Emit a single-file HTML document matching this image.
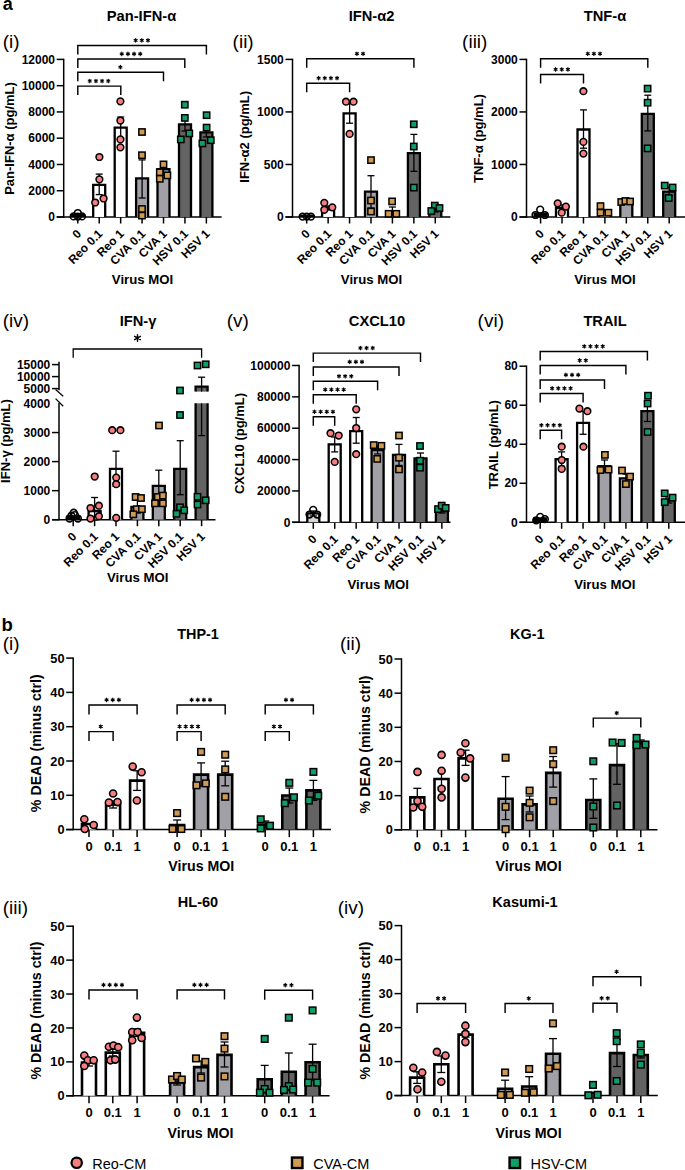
<!DOCTYPE html>
<html><head><meta charset="utf-8"><style>
html,body{margin:0;padding:0;background:#fff;}
body{width:685px;height:1170px;overflow:hidden;}
svg{display:block;}
text{font-family:"Liberation Sans", sans-serif;}
</style></head><body>
<svg width="685" height="1170" viewBox="0 0 685 1170" font-family='"Liberation Sans", sans-serif'>
<rect width="685" height="1170" fill="#fff"/>
<text x="2.65" y="9.9" font-size="18" font-weight="bold" text-anchor="start">a</text>
<text x="2.7" y="48.1" font-size="19" font-weight="normal" text-anchor="start">(i)</text>
<text x="141.5" y="20.8" font-size="14.7" font-weight="bold" text-anchor="middle">Pan-IFN-α</text>
<text x="13.5" y="138.5" font-size="13" font-weight="bold" text-anchor="middle" transform="rotate(-90 13.5 138.5)">Pan-IFN-α (pg/mL)</text>
<text x="142.5" y="283.8" font-size="13.2" font-weight="bold" text-anchor="middle">Virus MOI</text>
<line x1="63.7" y1="58.7" x2="63.7" y2="217.7" stroke="#000" stroke-width="1.5"/>
<line x1="56.7" y1="217" x2="63.7" y2="217" stroke="#000" stroke-width="1.5"/>
<text x="55" y="221.2" font-size="12.0" font-weight="bold" text-anchor="end">0</text>
<line x1="56.7" y1="190.73" x2="63.7" y2="190.73" stroke="#000" stroke-width="1.5"/>
<text x="55" y="194.93" font-size="12.0" font-weight="bold" text-anchor="end">2000</text>
<line x1="56.7" y1="164.47" x2="63.7" y2="164.47" stroke="#000" stroke-width="1.5"/>
<text x="55" y="168.67" font-size="12.0" font-weight="bold" text-anchor="end">4000</text>
<line x1="56.7" y1="138.2" x2="63.7" y2="138.2" stroke="#000" stroke-width="1.5"/>
<text x="55" y="142.4" font-size="12.0" font-weight="bold" text-anchor="end">6000</text>
<line x1="56.7" y1="111.93" x2="63.7" y2="111.93" stroke="#000" stroke-width="1.5"/>
<text x="55" y="116.13" font-size="12.0" font-weight="bold" text-anchor="end">8000</text>
<line x1="56.7" y1="85.67" x2="63.7" y2="85.67" stroke="#000" stroke-width="1.5"/>
<text x="55" y="89.87" font-size="12.0" font-weight="bold" text-anchor="end">10000</text>
<line x1="56.7" y1="59.4" x2="63.7" y2="59.4" stroke="#000" stroke-width="1.5"/>
<text x="55" y="63.6" font-size="12.0" font-weight="bold" text-anchor="end">12000</text>
<line x1="56.7" y1="217" x2="221.6" y2="217" stroke="#000" stroke-width="1.5"/>
<line x1="77.8" y1="217" x2="77.8" y2="223.5" stroke="#000" stroke-width="1.5"/>
<line x1="99.23" y1="217" x2="99.23" y2="223.5" stroke="#000" stroke-width="1.5"/>
<line x1="120.66" y1="217" x2="120.66" y2="223.5" stroke="#000" stroke-width="1.5"/>
<line x1="142.09" y1="217" x2="142.09" y2="223.5" stroke="#000" stroke-width="1.5"/>
<line x1="163.52" y1="217" x2="163.52" y2="223.5" stroke="#000" stroke-width="1.5"/>
<line x1="184.95" y1="217" x2="184.95" y2="223.5" stroke="#000" stroke-width="1.5"/>
<line x1="206.38" y1="217" x2="206.38" y2="223.5" stroke="#000" stroke-width="1.5"/>
<path d="M71.8 217V214.8H83.8V217" fill="#000" stroke="#000" stroke-width="2.3"/>
<path d="M93.2 217V184.9H105.2V217" fill="#fff" stroke="#000" stroke-width="2.3"/>
<path d="M114.7 217V127.6H126.7V217" fill="#fff" stroke="#000" stroke-width="2.3"/>
<path d="M136.1 217V178.3H148.1V217" fill="#a1a0a6" stroke="#000" stroke-width="2.3"/>
<path d="M157.5 217V169.1H169.5V217" fill="#a1a0a6" stroke="#000" stroke-width="2.3"/>
<path d="M179 217V124.4H191V217" fill="#636363" stroke="#000" stroke-width="2.3"/>
<path d="M200.4 217V132.3H212.4V217" fill="#636363" stroke="#000" stroke-width="2.3"/>
<line x1="99.2" y1="174.1" x2="99.2" y2="194.6" stroke="#000" stroke-width="1.3"/>
<line x1="95.7" y1="174.1" x2="102.7" y2="174.1" stroke="#000" stroke-width="1.3"/>
<line x1="95.7" y1="194.6" x2="102.7" y2="194.6" stroke="#000" stroke-width="1.3"/>
<line x1="120.7" y1="117" x2="120.7" y2="138" stroke="#000" stroke-width="1.3"/>
<line x1="117.2" y1="117" x2="124.2" y2="117" stroke="#000" stroke-width="1.3"/>
<line x1="117.2" y1="138" x2="124.2" y2="138" stroke="#000" stroke-width="1.3"/>
<line x1="142.1" y1="159.9" x2="142.1" y2="198" stroke="#000" stroke-width="1.3"/>
<line x1="138.6" y1="159.9" x2="145.6" y2="159.9" stroke="#000" stroke-width="1.3"/>
<line x1="138.6" y1="198" x2="145.6" y2="198" stroke="#000" stroke-width="1.3"/>
<line x1="163.5" y1="165" x2="163.5" y2="173" stroke="#000" stroke-width="1.3"/>
<line x1="160" y1="165" x2="167" y2="165" stroke="#000" stroke-width="1.3"/>
<line x1="160" y1="173" x2="167" y2="173" stroke="#000" stroke-width="1.3"/>
<line x1="185" y1="118" x2="185" y2="131" stroke="#000" stroke-width="1.3"/>
<line x1="181.5" y1="118" x2="188.5" y2="118" stroke="#000" stroke-width="1.3"/>
<line x1="181.5" y1="131" x2="188.5" y2="131" stroke="#000" stroke-width="1.3"/>
<line x1="206.4" y1="127" x2="206.4" y2="137" stroke="#000" stroke-width="1.3"/>
<line x1="202.9" y1="127" x2="209.9" y2="127" stroke="#000" stroke-width="1.3"/>
<line x1="202.9" y1="137" x2="209.9" y2="137" stroke="#000" stroke-width="1.3"/>
<circle cx="73.6" cy="216.4" r="3.35" fill="none" stroke="#000" stroke-width="1.55"/>
<circle cx="77.8" cy="213" r="3.35" fill="none" stroke="#000" stroke-width="1.55"/>
<circle cx="82" cy="216.4" r="3.35" fill="none" stroke="#000" stroke-width="1.55"/>
<circle cx="77.8" cy="216.6" r="3.35" fill="none" stroke="#000" stroke-width="1.55"/>
<circle cx="99.4" cy="157" r="3.35" fill="#f87d80" stroke="#000" stroke-width="1.55"/>
<circle cx="99.4" cy="179.3" r="3.35" fill="#f87d80" stroke="#000" stroke-width="1.55"/>
<circle cx="95.2" cy="202.5" r="3.35" fill="#f87d80" stroke="#000" stroke-width="1.55"/>
<circle cx="103.6" cy="198.5" r="3.35" fill="#f87d80" stroke="#000" stroke-width="1.55"/>
<circle cx="120.4" cy="101.3" r="3.35" fill="#f87d80" stroke="#000" stroke-width="1.55"/>
<circle cx="120.4" cy="120.5" r="3.35" fill="#f87d80" stroke="#000" stroke-width="1.55"/>
<circle cx="120.4" cy="139.4" r="3.35" fill="#f87d80" stroke="#000" stroke-width="1.55"/>
<circle cx="120.4" cy="147.3" r="3.35" fill="#f87d80" stroke="#000" stroke-width="1.55"/>
<rect x="138.85" y="128.85" width="6.3" height="6.3" fill="#d09a53" stroke="#000" stroke-width="1.5"/>
<rect x="138.85" y="152.05" width="6.3" height="6.3" fill="#d09a53" stroke="#000" stroke-width="1.5"/>
<rect x="138.85" y="205.85" width="6.3" height="6.3" fill="#d09a53" stroke="#000" stroke-width="1.5"/>
<rect x="138.85" y="212.45" width="6.3" height="6.3" fill="#d09a53" stroke="#000" stroke-width="1.5"/>
<rect x="160.35" y="161.25" width="6.3" height="6.3" fill="#d09a53" stroke="#000" stroke-width="1.5"/>
<rect x="156.65" y="169.15" width="6.3" height="6.3" fill="#d09a53" stroke="#000" stroke-width="1.5"/>
<rect x="164.25" y="172.25" width="6.3" height="6.3" fill="#d09a53" stroke="#000" stroke-width="1.5"/>
<rect x="156.65" y="175.65" width="6.3" height="6.3" fill="#d09a53" stroke="#000" stroke-width="1.5"/>
<rect x="181.65" y="101.55" width="6.3" height="6.3" fill="#0f9e68" stroke="#000" stroke-width="1.5"/>
<rect x="181.65" y="114.75" width="6.3" height="6.3" fill="#0f9e68" stroke="#000" stroke-width="1.5"/>
<rect x="186.15" y="130.25" width="6.3" height="6.3" fill="#0f9e68" stroke="#000" stroke-width="1.5"/>
<rect x="177.65" y="136.25" width="6.3" height="6.3" fill="#0f9e68" stroke="#000" stroke-width="1.5"/>
<rect x="203.45" y="112.05" width="6.3" height="6.3" fill="#0f9e68" stroke="#000" stroke-width="1.5"/>
<rect x="203.45" y="124.45" width="6.3" height="6.3" fill="#0f9e68" stroke="#000" stroke-width="1.5"/>
<rect x="199.25" y="140.25" width="6.3" height="6.3" fill="#0f9e68" stroke="#000" stroke-width="1.5"/>
<rect x="207.65" y="137.05" width="6.3" height="6.3" fill="#0f9e68" stroke="#000" stroke-width="1.5"/>
<path d="M77.8 54.4V45.4H206.4V54.4" stroke="#000" stroke-width="1.45" fill="none"/>
<path d="M135.65 38.55V42.05M134.13 39.42L137.17 41.17M134.13 41.17L137.17 39.42" stroke="#000" stroke-width="1.15" stroke-linecap="round"/>
<circle cx="135.65" cy="40.3" r="0.73" fill="#000"/>
<path d="M141.8 38.55V42.05M140.28 39.42L143.32 41.17M140.28 41.17L143.32 39.42" stroke="#000" stroke-width="1.15" stroke-linecap="round"/>
<circle cx="141.8" cy="40.3" r="0.73" fill="#000"/>
<path d="M147.95 38.55V42.05M146.43 39.42L149.47 41.17M146.43 41.17L149.47 39.42" stroke="#000" stroke-width="1.15" stroke-linecap="round"/>
<circle cx="147.95" cy="40.3" r="0.73" fill="#000"/>
<path d="M77.8 68V59H184.8V68" stroke="#000" stroke-width="1.45" fill="none"/>
<path d="M121.78 52.15V55.65M120.26 53.02L123.29 54.77M120.26 54.77L123.29 53.02" stroke="#000" stroke-width="1.15" stroke-linecap="round"/>
<circle cx="121.78" cy="53.9" r="0.73" fill="#000"/>
<path d="M127.93 52.15V55.65M126.41 53.02L129.44 54.77M126.41 54.77L129.44 53.02" stroke="#000" stroke-width="1.15" stroke-linecap="round"/>
<circle cx="127.93" cy="53.9" r="0.73" fill="#000"/>
<path d="M134.08 52.15V55.65M132.56 53.02L135.59 54.77M132.56 54.77L135.59 53.02" stroke="#000" stroke-width="1.15" stroke-linecap="round"/>
<circle cx="134.08" cy="53.9" r="0.73" fill="#000"/>
<path d="M140.23 52.15V55.65M138.71 53.02L141.74 54.77M138.71 54.77L141.74 53.02" stroke="#000" stroke-width="1.15" stroke-linecap="round"/>
<circle cx="140.23" cy="53.9" r="0.73" fill="#000"/>
<path d="M77.8 81.2V72.2H163.5V81.2" stroke="#000" stroke-width="1.45" fill="none"/>
<path d="M120.35 65.35V68.85M118.83 66.23L121.87 67.98M118.83 67.98L121.87 66.23" stroke="#000" stroke-width="1.15" stroke-linecap="round"/>
<circle cx="120.35" cy="67.1" r="0.73" fill="#000"/>
<path d="M77.8 95.1V86.1H120.8V95.1" stroke="#000" stroke-width="1.45" fill="none"/>
<path d="M89.78 79.25V82.75M88.26 80.12L91.29 81.88M88.26 81.88L91.29 80.12" stroke="#000" stroke-width="1.15" stroke-linecap="round"/>
<circle cx="89.78" cy="81" r="0.73" fill="#000"/>
<path d="M95.93 79.25V82.75M94.41 80.12L97.44 81.88M94.41 81.88L97.44 80.12" stroke="#000" stroke-width="1.15" stroke-linecap="round"/>
<circle cx="95.93" cy="81" r="0.73" fill="#000"/>
<path d="M102.08 79.25V82.75M100.56 80.12L103.59 81.88M100.56 81.88L103.59 80.12" stroke="#000" stroke-width="1.15" stroke-linecap="round"/>
<circle cx="102.08" cy="81" r="0.73" fill="#000"/>
<path d="M108.23 79.25V82.75M106.71 80.12L109.74 81.88M106.71 81.88L109.74 80.12" stroke="#000" stroke-width="1.15" stroke-linecap="round"/>
<circle cx="108.23" cy="81" r="0.73" fill="#000"/>
<text x="81.9" y="234.5" font-size="12.0" font-weight="bold" text-anchor="end" transform="rotate(-45 81.9 234.5)">0</text>
<text x="103.33" y="234.5" font-size="12.0" font-weight="bold" text-anchor="end" transform="rotate(-45 103.33 234.5)">Reo 0.1</text>
<text x="124.76" y="234.5" font-size="12.0" font-weight="bold" text-anchor="end" transform="rotate(-45 124.76 234.5)">Reo 1</text>
<text x="146.19" y="234.5" font-size="12.0" font-weight="bold" text-anchor="end" transform="rotate(-45 146.19 234.5)">CVA 0.1</text>
<text x="167.62" y="234.5" font-size="12.0" font-weight="bold" text-anchor="end" transform="rotate(-45 167.62 234.5)">CVA 1</text>
<text x="189.05" y="234.5" font-size="12.0" font-weight="bold" text-anchor="end" transform="rotate(-45 189.05 234.5)">HSV 0.1</text>
<text x="210.48" y="234.5" font-size="12.0" font-weight="bold" text-anchor="end" transform="rotate(-45 210.48 234.5)">HSV 1</text>
<text x="232.6" y="48.1" font-size="19" font-weight="normal" text-anchor="start">(ii)</text>
<text x="371.5" y="21" font-size="14.7" font-weight="bold" text-anchor="middle">IFN-α2</text>
<text x="249.5" y="136.8" font-size="13" font-weight="bold" text-anchor="middle" transform="rotate(-90 249.5 136.8)">IFN-α2 (pg/mL)</text>
<text x="371.5" y="283.8" font-size="13.2" font-weight="bold" text-anchor="middle">Virus MOI</text>
<line x1="292.5" y1="58.7" x2="292.5" y2="217.7" stroke="#000" stroke-width="1.5"/>
<line x1="285.5" y1="217" x2="292.5" y2="217" stroke="#000" stroke-width="1.5"/>
<text x="283.8" y="221.2" font-size="12.0" font-weight="bold" text-anchor="end">0</text>
<line x1="285.5" y1="164.47" x2="292.5" y2="164.47" stroke="#000" stroke-width="1.5"/>
<text x="283.8" y="168.67" font-size="12.0" font-weight="bold" text-anchor="end">500</text>
<line x1="285.5" y1="111.93" x2="292.5" y2="111.93" stroke="#000" stroke-width="1.5"/>
<text x="283.8" y="116.13" font-size="12.0" font-weight="bold" text-anchor="end">1000</text>
<line x1="285.5" y1="59.4" x2="292.5" y2="59.4" stroke="#000" stroke-width="1.5"/>
<text x="283.8" y="63.6" font-size="12.0" font-weight="bold" text-anchor="end">1500</text>
<line x1="285.5" y1="217" x2="450.3" y2="217" stroke="#000" stroke-width="1.5"/>
<line x1="306.7" y1="217" x2="306.7" y2="223.5" stroke="#000" stroke-width="1.5"/>
<line x1="328.13" y1="217" x2="328.13" y2="223.5" stroke="#000" stroke-width="1.5"/>
<line x1="349.56" y1="217" x2="349.56" y2="223.5" stroke="#000" stroke-width="1.5"/>
<line x1="370.99" y1="217" x2="370.99" y2="223.5" stroke="#000" stroke-width="1.5"/>
<line x1="392.42" y1="217" x2="392.42" y2="223.5" stroke="#000" stroke-width="1.5"/>
<line x1="413.85" y1="217" x2="413.85" y2="223.5" stroke="#000" stroke-width="1.5"/>
<line x1="435.28" y1="217" x2="435.28" y2="223.5" stroke="#000" stroke-width="1.5"/>
<path d="M300.7 217V215.6H312.7V217" fill="#000" stroke="#000" stroke-width="2.3"/>
<path d="M322.1 217V208H334.1V217" fill="#fff" stroke="#000" stroke-width="2.3"/>
<path d="M343.6 217V113.4H355.6V217" fill="#fff" stroke="#000" stroke-width="2.3"/>
<path d="M365 217V191.6H377V217" fill="#a1a0a6" stroke="#000" stroke-width="2.3"/>
<path d="M386.4 217V211.5H398.4V217" fill="#a1a0a6" stroke="#000" stroke-width="2.3"/>
<path d="M407.9 217V153.1H419.9V217" fill="#636363" stroke="#000" stroke-width="2.3"/>
<path d="M429.3 217V209.1H441.3V217" fill="#636363" stroke="#000" stroke-width="2.3"/>
<line x1="328.1" y1="206" x2="328.1" y2="210" stroke="#000" stroke-width="1.3"/>
<line x1="324.6" y1="206" x2="331.6" y2="206" stroke="#000" stroke-width="1.3"/>
<line x1="324.6" y1="210" x2="331.6" y2="210" stroke="#000" stroke-width="1.3"/>
<line x1="349.6" y1="103.6" x2="349.6" y2="123.2" stroke="#000" stroke-width="1.3"/>
<line x1="346.1" y1="103.6" x2="353.1" y2="103.6" stroke="#000" stroke-width="1.3"/>
<line x1="346.1" y1="123.2" x2="353.1" y2="123.2" stroke="#000" stroke-width="1.3"/>
<line x1="371" y1="175.7" x2="371" y2="208" stroke="#000" stroke-width="1.3"/>
<line x1="367.5" y1="175.7" x2="374.5" y2="175.7" stroke="#000" stroke-width="1.3"/>
<line x1="367.5" y1="208" x2="374.5" y2="208" stroke="#000" stroke-width="1.3"/>
<line x1="392.4" y1="207" x2="392.4" y2="215" stroke="#000" stroke-width="1.3"/>
<line x1="388.9" y1="207" x2="395.9" y2="207" stroke="#000" stroke-width="1.3"/>
<line x1="388.9" y1="215" x2="395.9" y2="215" stroke="#000" stroke-width="1.3"/>
<line x1="413.9" y1="134.4" x2="413.9" y2="171.3" stroke="#000" stroke-width="1.3"/>
<line x1="410.4" y1="134.4" x2="417.4" y2="134.4" stroke="#000" stroke-width="1.3"/>
<line x1="410.4" y1="171.3" x2="417.4" y2="171.3" stroke="#000" stroke-width="1.3"/>
<line x1="435.3" y1="206" x2="435.3" y2="212" stroke="#000" stroke-width="1.3"/>
<line x1="431.8" y1="206" x2="438.8" y2="206" stroke="#000" stroke-width="1.3"/>
<line x1="431.8" y1="212" x2="438.8" y2="212" stroke="#000" stroke-width="1.3"/>
<circle cx="302.6" cy="216.6" r="3.35" fill="none" stroke="#000" stroke-width="1.55"/>
<circle cx="306.8" cy="216.6" r="3.35" fill="none" stroke="#000" stroke-width="1.55"/>
<circle cx="311" cy="216.6" r="3.35" fill="none" stroke="#000" stroke-width="1.55"/>
<circle cx="324.3" cy="202.8" r="3.35" fill="#f87d80" stroke="#000" stroke-width="1.55"/>
<circle cx="324.3" cy="209.8" r="3.35" fill="#f87d80" stroke="#000" stroke-width="1.55"/>
<circle cx="332.3" cy="207.3" r="3.35" fill="#f87d80" stroke="#000" stroke-width="1.55"/>
<circle cx="346" cy="101.7" r="3.35" fill="#f87d80" stroke="#000" stroke-width="1.55"/>
<circle cx="353.5" cy="101.7" r="3.35" fill="#f87d80" stroke="#000" stroke-width="1.55"/>
<circle cx="349.6" cy="133.9" r="3.35" fill="#f87d80" stroke="#000" stroke-width="1.55"/>
<rect x="367.85" y="156.95" width="6.3" height="6.3" fill="#d09a53" stroke="#000" stroke-width="1.5"/>
<rect x="367.85" y="197.35" width="6.3" height="6.3" fill="#d09a53" stroke="#000" stroke-width="1.5"/>
<rect x="367.85" y="208.35" width="6.3" height="6.3" fill="#d09a53" stroke="#000" stroke-width="1.5"/>
<rect x="388.95" y="198.25" width="6.3" height="6.3" fill="#d09a53" stroke="#000" stroke-width="1.5"/>
<rect x="385.45" y="210.65" width="6.3" height="6.3" fill="#d09a53" stroke="#000" stroke-width="1.5"/>
<rect x="393.15" y="210.65" width="6.3" height="6.3" fill="#d09a53" stroke="#000" stroke-width="1.5"/>
<rect x="410.65" y="121.15" width="6.3" height="6.3" fill="#0f9e68" stroke="#000" stroke-width="1.5"/>
<rect x="410.65" y="143.35" width="6.3" height="6.3" fill="#0f9e68" stroke="#000" stroke-width="1.5"/>
<rect x="410.65" y="184.45" width="6.3" height="6.3" fill="#0f9e68" stroke="#000" stroke-width="1.5"/>
<rect x="431.65" y="202.45" width="6.3" height="6.3" fill="#0f9e68" stroke="#000" stroke-width="1.5"/>
<rect x="436.35" y="204.85" width="6.3" height="6.3" fill="#0f9e68" stroke="#000" stroke-width="1.5"/>
<rect x="428.15" y="207.85" width="6.3" height="6.3" fill="#0f9e68" stroke="#000" stroke-width="1.5"/>
<path d="M306.7 67.8V58.8H413.9V67.8" stroke="#000" stroke-width="1.45" fill="none"/>
<path d="M356.92 51.95V55.45M355.41 52.82L358.44 54.57M355.41 54.57L358.44 52.82" stroke="#000" stroke-width="1.15" stroke-linecap="round"/>
<circle cx="356.92" cy="53.7" r="0.73" fill="#000"/>
<path d="M363.07 51.95V55.45M361.56 52.82L364.59 54.57M361.56 54.57L364.59 52.82" stroke="#000" stroke-width="1.15" stroke-linecap="round"/>
<circle cx="363.07" cy="53.7" r="0.73" fill="#000"/>
<path d="M306.7 92.2V83.2H349.6V92.2" stroke="#000" stroke-width="1.45" fill="none"/>
<path d="M318.62 76.35V79.85M317.11 77.23L320.14 78.98M317.11 78.98L320.14 77.23" stroke="#000" stroke-width="1.15" stroke-linecap="round"/>
<circle cx="318.62" cy="78.1" r="0.73" fill="#000"/>
<path d="M324.77 76.35V79.85M323.26 77.23L326.29 78.98M323.26 78.98L326.29 77.23" stroke="#000" stroke-width="1.15" stroke-linecap="round"/>
<circle cx="324.77" cy="78.1" r="0.73" fill="#000"/>
<path d="M330.92 76.35V79.85M329.41 77.23L332.44 78.98M329.41 78.98L332.44 77.23" stroke="#000" stroke-width="1.15" stroke-linecap="round"/>
<circle cx="330.92" cy="78.1" r="0.73" fill="#000"/>
<path d="M337.07 76.35V79.85M335.56 77.23L338.59 78.98M335.56 78.98L338.59 77.23" stroke="#000" stroke-width="1.15" stroke-linecap="round"/>
<circle cx="337.07" cy="78.1" r="0.73" fill="#000"/>
<text x="310.8" y="234.5" font-size="12.0" font-weight="bold" text-anchor="end" transform="rotate(-45 310.8 234.5)">0</text>
<text x="332.23" y="234.5" font-size="12.0" font-weight="bold" text-anchor="end" transform="rotate(-45 332.23 234.5)">Reo 0.1</text>
<text x="353.66" y="234.5" font-size="12.0" font-weight="bold" text-anchor="end" transform="rotate(-45 353.66 234.5)">Reo 1</text>
<text x="375.09" y="234.5" font-size="12.0" font-weight="bold" text-anchor="end" transform="rotate(-45 375.09 234.5)">CVA 0.1</text>
<text x="396.52" y="234.5" font-size="12.0" font-weight="bold" text-anchor="end" transform="rotate(-45 396.52 234.5)">CVA 1</text>
<text x="417.95" y="234.5" font-size="12.0" font-weight="bold" text-anchor="end" transform="rotate(-45 417.95 234.5)">HSV 0.1</text>
<text x="439.38" y="234.5" font-size="12.0" font-weight="bold" text-anchor="end" transform="rotate(-45 439.38 234.5)">HSV 1</text>
<text x="462.1" y="48.1" font-size="19" font-weight="normal" text-anchor="start">(iii)</text>
<text x="605" y="21" font-size="14.7" font-weight="bold" text-anchor="middle">TNF-α</text>
<text x="483" y="138.5" font-size="13" font-weight="bold" text-anchor="middle" transform="rotate(-90 483 138.5)">TNF-α (pg/mL)</text>
<text x="605" y="283.8" font-size="13.2" font-weight="bold" text-anchor="middle">Virus MOI</text>
<line x1="526.5" y1="58.7" x2="526.5" y2="217.7" stroke="#000" stroke-width="1.5"/>
<line x1="519.5" y1="217" x2="526.5" y2="217" stroke="#000" stroke-width="1.5"/>
<text x="517.8" y="221.2" font-size="12.0" font-weight="bold" text-anchor="end">0</text>
<line x1="519.5" y1="164.47" x2="526.5" y2="164.47" stroke="#000" stroke-width="1.5"/>
<text x="517.8" y="168.67" font-size="12.0" font-weight="bold" text-anchor="end">1000</text>
<line x1="519.5" y1="111.93" x2="526.5" y2="111.93" stroke="#000" stroke-width="1.5"/>
<text x="517.8" y="116.13" font-size="12.0" font-weight="bold" text-anchor="end">2000</text>
<line x1="519.5" y1="59.4" x2="526.5" y2="59.4" stroke="#000" stroke-width="1.5"/>
<text x="517.8" y="63.6" font-size="12.0" font-weight="bold" text-anchor="end">3000</text>
<line x1="519.5" y1="217" x2="685" y2="217" stroke="#000" stroke-width="1.5"/>
<line x1="540.6" y1="217" x2="540.6" y2="223.5" stroke="#000" stroke-width="1.5"/>
<line x1="562.03" y1="217" x2="562.03" y2="223.5" stroke="#000" stroke-width="1.5"/>
<line x1="583.46" y1="217" x2="583.46" y2="223.5" stroke="#000" stroke-width="1.5"/>
<line x1="604.89" y1="217" x2="604.89" y2="223.5" stroke="#000" stroke-width="1.5"/>
<line x1="626.32" y1="217" x2="626.32" y2="223.5" stroke="#000" stroke-width="1.5"/>
<line x1="647.75" y1="217" x2="647.75" y2="223.5" stroke="#000" stroke-width="1.5"/>
<line x1="669.18" y1="217" x2="669.18" y2="223.5" stroke="#000" stroke-width="1.5"/>
<path d="M534.6 217V213.6H546.6V217" fill="#000" stroke="#000" stroke-width="2.3"/>
<path d="M556 217V208H568V217" fill="#fff" stroke="#000" stroke-width="2.3"/>
<path d="M577.5 217V129.5H589.5V217" fill="#fff" stroke="#000" stroke-width="2.3"/>
<path d="M598.9 217V210.5H610.9V217" fill="#a1a0a6" stroke="#000" stroke-width="2.3"/>
<path d="M620.3 217V201.5H632.3V217" fill="#a1a0a6" stroke="#000" stroke-width="2.3"/>
<path d="M641.8 217V113.9H653.8V217" fill="#636363" stroke="#000" stroke-width="2.3"/>
<path d="M663.2 217V191.7H675.2V217" fill="#636363" stroke="#000" stroke-width="2.3"/>
<line x1="562" y1="205" x2="562" y2="211" stroke="#000" stroke-width="1.3"/>
<line x1="558.5" y1="205" x2="565.5" y2="205" stroke="#000" stroke-width="1.3"/>
<line x1="558.5" y1="211" x2="565.5" y2="211" stroke="#000" stroke-width="1.3"/>
<line x1="583.5" y1="109.9" x2="583.5" y2="148.2" stroke="#000" stroke-width="1.3"/>
<line x1="580" y1="109.9" x2="587" y2="109.9" stroke="#000" stroke-width="1.3"/>
<line x1="580" y1="148.2" x2="587" y2="148.2" stroke="#000" stroke-width="1.3"/>
<line x1="626.3" y1="200.5" x2="626.3" y2="202.5" stroke="#000" stroke-width="1.3"/>
<line x1="622.8" y1="200.5" x2="629.8" y2="200.5" stroke="#000" stroke-width="1.3"/>
<line x1="622.8" y1="202.5" x2="629.8" y2="202.5" stroke="#000" stroke-width="1.3"/>
<line x1="647.8" y1="95.2" x2="647.8" y2="130.9" stroke="#000" stroke-width="1.3"/>
<line x1="644.3" y1="95.2" x2="651.3" y2="95.2" stroke="#000" stroke-width="1.3"/>
<line x1="644.3" y1="130.9" x2="651.3" y2="130.9" stroke="#000" stroke-width="1.3"/>
<line x1="669.2" y1="187" x2="669.2" y2="196" stroke="#000" stroke-width="1.3"/>
<line x1="665.7" y1="187" x2="672.7" y2="187" stroke="#000" stroke-width="1.3"/>
<line x1="665.7" y1="196" x2="672.7" y2="196" stroke="#000" stroke-width="1.3"/>
<circle cx="540.2" cy="209.6" r="3.35" fill="none" stroke="#000" stroke-width="1.55"/>
<circle cx="535.5" cy="215" r="3.35" fill="none" stroke="#000" stroke-width="1.55"/>
<circle cx="544.9" cy="215" r="3.35" fill="none" stroke="#000" stroke-width="1.55"/>
<circle cx="557.7" cy="203.3" r="3.35" fill="#f87d80" stroke="#000" stroke-width="1.55"/>
<circle cx="565.9" cy="206.6" r="3.35" fill="#f87d80" stroke="#000" stroke-width="1.55"/>
<circle cx="561.7" cy="212.7" r="3.35" fill="#f87d80" stroke="#000" stroke-width="1.55"/>
<circle cx="583.4" cy="91.2" r="3.35" fill="#f87d80" stroke="#000" stroke-width="1.55"/>
<circle cx="583.4" cy="141.9" r="3.35" fill="#f87d80" stroke="#000" stroke-width="1.55"/>
<circle cx="583.4" cy="153.6" r="3.35" fill="#f87d80" stroke="#000" stroke-width="1.55"/>
<rect x="597.35" y="202.95" width="6.3" height="6.3" fill="#d09a53" stroke="#000" stroke-width="1.5"/>
<rect x="597.35" y="209.55" width="6.3" height="6.3" fill="#d09a53" stroke="#000" stroke-width="1.5"/>
<rect x="605.25" y="209.55" width="6.3" height="6.3" fill="#d09a53" stroke="#000" stroke-width="1.5"/>
<rect x="618.05" y="198.85" width="6.3" height="6.3" fill="#d09a53" stroke="#000" stroke-width="1.5"/>
<rect x="622.25" y="197.85" width="6.3" height="6.3" fill="#d09a53" stroke="#000" stroke-width="1.5"/>
<rect x="626.95" y="198.35" width="6.3" height="6.3" fill="#d09a53" stroke="#000" stroke-width="1.5"/>
<rect x="644.45" y="85.45" width="6.3" height="6.3" fill="#0f9e68" stroke="#000" stroke-width="1.5"/>
<rect x="644.45" y="99.55" width="6.3" height="6.3" fill="#0f9e68" stroke="#000" stroke-width="1.5"/>
<rect x="644.45" y="145.25" width="6.3" height="6.3" fill="#0f9e68" stroke="#000" stroke-width="1.5"/>
<rect x="661.55" y="182.45" width="6.3" height="6.3" fill="#0f9e68" stroke="#000" stroke-width="1.5"/>
<rect x="669.45" y="184.35" width="6.3" height="6.3" fill="#0f9e68" stroke="#000" stroke-width="1.5"/>
<rect x="665.55" y="194.85" width="6.3" height="6.3" fill="#0f9e68" stroke="#000" stroke-width="1.5"/>
<path d="M540.6 67.8V58.8H647.8V67.8" stroke="#000" stroke-width="1.45" fill="none"/>
<path d="M587.75 51.95V55.45M586.23 52.82L589.27 54.57M586.23 54.57L589.27 52.82" stroke="#000" stroke-width="1.15" stroke-linecap="round"/>
<circle cx="587.75" cy="53.7" r="0.73" fill="#000"/>
<path d="M593.9 51.95V55.45M592.38 52.82L595.42 54.57M592.38 54.57L595.42 52.82" stroke="#000" stroke-width="1.15" stroke-linecap="round"/>
<circle cx="593.9" cy="53.7" r="0.73" fill="#000"/>
<path d="M600.05 51.95V55.45M598.53 52.82L601.57 54.57M598.53 54.57L601.57 52.82" stroke="#000" stroke-width="1.15" stroke-linecap="round"/>
<circle cx="600.05" cy="53.7" r="0.73" fill="#000"/>
<path d="M540.6 83.5V74.5H583.5V83.5" stroke="#000" stroke-width="1.45" fill="none"/>
<path d="M555.6 67.65V71.15M554.08 68.53L557.12 70.28M554.08 70.28L557.12 68.53" stroke="#000" stroke-width="1.15" stroke-linecap="round"/>
<circle cx="555.6" cy="69.4" r="0.73" fill="#000"/>
<path d="M561.75 67.65V71.15M560.23 68.53L563.27 70.28M560.23 70.28L563.27 68.53" stroke="#000" stroke-width="1.15" stroke-linecap="round"/>
<circle cx="561.75" cy="69.4" r="0.73" fill="#000"/>
<path d="M567.9 67.65V71.15M566.38 68.53L569.42 70.28M566.38 70.28L569.42 68.53" stroke="#000" stroke-width="1.15" stroke-linecap="round"/>
<circle cx="567.9" cy="69.4" r="0.73" fill="#000"/>
<text x="544.7" y="234.5" font-size="12.0" font-weight="bold" text-anchor="end" transform="rotate(-45 544.7 234.5)">0</text>
<text x="566.13" y="234.5" font-size="12.0" font-weight="bold" text-anchor="end" transform="rotate(-45 566.13 234.5)">Reo 0.1</text>
<text x="587.56" y="234.5" font-size="12.0" font-weight="bold" text-anchor="end" transform="rotate(-45 587.56 234.5)">Reo 1</text>
<text x="608.99" y="234.5" font-size="12.0" font-weight="bold" text-anchor="end" transform="rotate(-45 608.99 234.5)">CVA 0.1</text>
<text x="630.42" y="234.5" font-size="12.0" font-weight="bold" text-anchor="end" transform="rotate(-45 630.42 234.5)">CVA 1</text>
<text x="651.85" y="234.5" font-size="12.0" font-weight="bold" text-anchor="end" transform="rotate(-45 651.85 234.5)">HSV 0.1</text>
<text x="673.28" y="234.5" font-size="12.0" font-weight="bold" text-anchor="end" transform="rotate(-45 673.28 234.5)">HSV 1</text>
<text x="2.7" y="327" font-size="19" font-weight="normal" text-anchor="start">(iv)</text>
<text x="138" y="325.5" font-size="14.7" font-weight="bold" text-anchor="middle">IFN-γ</text>
<text x="9.5" y="441" font-size="13" font-weight="bold" text-anchor="middle" transform="rotate(-90 9.5 441)">IFN-γ (pg/mL)</text>
<text x="137.7" y="582.3" font-size="13.2" font-weight="bold" text-anchor="middle">Virus MOI</text>
<line x1="59" y1="403" x2="59" y2="520.3" stroke="#000" stroke-width="1.5"/>
<line x1="52" y1="519.7" x2="59" y2="519.7" stroke="#000" stroke-width="1.5"/>
<text x="50.3" y="523.9" font-size="12.0" font-weight="bold" text-anchor="end">0</text>
<line x1="52" y1="490.65" x2="59" y2="490.65" stroke="#000" stroke-width="1.5"/>
<text x="50.3" y="494.85" font-size="12.0" font-weight="bold" text-anchor="end">1000</text>
<line x1="52" y1="461.6" x2="59" y2="461.6" stroke="#000" stroke-width="1.5"/>
<text x="50.3" y="465.8" font-size="12.0" font-weight="bold" text-anchor="end">2000</text>
<line x1="52" y1="432.55" x2="59" y2="432.55" stroke="#000" stroke-width="1.5"/>
<text x="50.3" y="436.75" font-size="12.0" font-weight="bold" text-anchor="end">3000</text>
<text x="50.3" y="408" font-size="12.0" font-weight="bold" text-anchor="end">4000</text>
<line x1="59" y1="361.7" x2="59" y2="390.3" stroke="#000" stroke-width="1.5"/>
<line x1="52" y1="364.6" x2="59" y2="364.6" stroke="#000" stroke-width="1.5"/>
<text x="50.3" y="368.8" font-size="12.0" font-weight="bold" text-anchor="end">15000</text>
<line x1="52" y1="376.6" x2="59" y2="376.6" stroke="#000" stroke-width="1.5"/>
<text x="50.3" y="380.8" font-size="12.0" font-weight="bold" text-anchor="end">10000</text>
<line x1="52" y1="388.6" x2="59" y2="388.6" stroke="#000" stroke-width="1.5"/>
<text x="50.3" y="392.8" font-size="12.0" font-weight="bold" text-anchor="end">5000</text>
<line x1="55.6" y1="389.6" x2="63.2" y2="396.2" stroke="#000" stroke-width="1.3"/>
<line x1="55.6" y1="398.6" x2="63.2" y2="406.2" stroke="#000" stroke-width="1.3"/>
<line x1="52" y1="519.7" x2="215.5" y2="519.7" stroke="#000" stroke-width="1.5"/>
<line x1="73.2" y1="519.7" x2="73.2" y2="526.2" stroke="#000" stroke-width="1.5"/>
<line x1="94.6" y1="519.7" x2="94.6" y2="526.2" stroke="#000" stroke-width="1.5"/>
<line x1="116" y1="519.7" x2="116" y2="526.2" stroke="#000" stroke-width="1.5"/>
<line x1="137.4" y1="519.7" x2="137.4" y2="526.2" stroke="#000" stroke-width="1.5"/>
<line x1="158.8" y1="519.7" x2="158.8" y2="526.2" stroke="#000" stroke-width="1.5"/>
<line x1="180.2" y1="519.7" x2="180.2" y2="526.2" stroke="#000" stroke-width="1.5"/>
<line x1="201.6" y1="519.7" x2="201.6" y2="526.2" stroke="#000" stroke-width="1.5"/>
<path d="M67.2 519.7V517H79.2V519.7" fill="#000" stroke="#000" stroke-width="2.3"/>
<path d="M88.6 519.7V511H100.6V519.7" fill="#fff" stroke="#000" stroke-width="2.3"/>
<path d="M110 519.7V468.8H122V519.7" fill="#fff" stroke="#000" stroke-width="2.3"/>
<path d="M131.4 519.7V506.8H143.4V519.7" fill="#a1a0a6" stroke="#000" stroke-width="2.3"/>
<path d="M152.8 519.7V485.8H164.8V519.7" fill="#a1a0a6" stroke="#000" stroke-width="2.3"/>
<path d="M174.2 519.7V468.8H186.2V519.7" fill="#636363" stroke="#000" stroke-width="2.3"/>
<rect x="195.6" y="403.3" width="12" height="116.4" fill="#636363"/>
<line x1="195.6" y1="403.3" x2="195.6" y2="519.7" stroke="#000" stroke-width="2.3"/>
<line x1="207.6" y1="403.3" x2="207.6" y2="519.7" stroke="#000" stroke-width="2.3"/>
<path d="M195.6 391.6V386.7H207.6V391.6" fill="#636363" stroke="#000" stroke-width="2.3"/>
<line x1="94.6" y1="497.5" x2="94.6" y2="520" stroke="#000" stroke-width="1.3"/>
<line x1="91.1" y1="497.5" x2="98.1" y2="497.5" stroke="#000" stroke-width="1.3"/>
<line x1="91.1" y1="520" x2="98.1" y2="520" stroke="#000" stroke-width="1.3"/>
<line x1="116" y1="451.2" x2="116" y2="486.4" stroke="#000" stroke-width="1.3"/>
<line x1="112.5" y1="451.2" x2="119.5" y2="451.2" stroke="#000" stroke-width="1.3"/>
<line x1="112.5" y1="486.4" x2="119.5" y2="486.4" stroke="#000" stroke-width="1.3"/>
<line x1="137.4" y1="500" x2="137.4" y2="513" stroke="#000" stroke-width="1.3"/>
<line x1="133.9" y1="500" x2="140.9" y2="500" stroke="#000" stroke-width="1.3"/>
<line x1="133.9" y1="513" x2="140.9" y2="513" stroke="#000" stroke-width="1.3"/>
<line x1="158.8" y1="470.2" x2="158.8" y2="501.4" stroke="#000" stroke-width="1.3"/>
<line x1="155.3" y1="470.2" x2="162.3" y2="470.2" stroke="#000" stroke-width="1.3"/>
<line x1="155.3" y1="501.4" x2="162.3" y2="501.4" stroke="#000" stroke-width="1.3"/>
<line x1="180.2" y1="440.7" x2="180.2" y2="494.7" stroke="#000" stroke-width="1.3"/>
<line x1="176.7" y1="440.7" x2="183.7" y2="440.7" stroke="#000" stroke-width="1.3"/>
<line x1="176.7" y1="494.7" x2="183.7" y2="494.7" stroke="#000" stroke-width="1.3"/>
<line x1="201.6" y1="377.2" x2="201.6" y2="391.6" stroke="#000" stroke-width="1.3"/>
<line x1="198.1" y1="377.2" x2="205.1" y2="377.2" stroke="#000" stroke-width="1.3"/>
<line x1="201.6" y1="403.3" x2="201.6" y2="435.6" stroke="#000" stroke-width="1.3"/>
<line x1="198.1" y1="435.6" x2="205.1" y2="435.6" stroke="#000" stroke-width="1.3"/>
<circle cx="71.4" cy="515.7" r="3.35" fill="none" stroke="#000" stroke-width="1.55"/>
<circle cx="74.9" cy="515" r="3.35" fill="none" stroke="#000" stroke-width="1.55"/>
<circle cx="69.5" cy="518.5" r="3.35" fill="none" stroke="#000" stroke-width="1.55"/>
<circle cx="77.9" cy="518.5" r="3.35" fill="none" stroke="#000" stroke-width="1.55"/>
<circle cx="73.7" cy="512.7" r="3.35" fill="none" stroke="#000" stroke-width="1.55"/>
<circle cx="94.7" cy="476.5" r="3.35" fill="#f87d80" stroke="#000" stroke-width="1.55"/>
<circle cx="90.5" cy="508" r="3.35" fill="#f87d80" stroke="#000" stroke-width="1.55"/>
<circle cx="98.9" cy="505.7" r="3.35" fill="#f87d80" stroke="#000" stroke-width="1.55"/>
<circle cx="90.5" cy="518.5" r="3.35" fill="#f87d80" stroke="#000" stroke-width="1.55"/>
<circle cx="98.9" cy="516.2" r="3.35" fill="#f87d80" stroke="#000" stroke-width="1.55"/>
<circle cx="112.2" cy="430.2" r="3.35" fill="#f87d80" stroke="#000" stroke-width="1.55"/>
<circle cx="120.4" cy="430.2" r="3.35" fill="#f87d80" stroke="#000" stroke-width="1.55"/>
<circle cx="116.2" cy="477.6" r="3.35" fill="#f87d80" stroke="#000" stroke-width="1.55"/>
<circle cx="116.2" cy="484.2" r="3.35" fill="#f87d80" stroke="#000" stroke-width="1.55"/>
<circle cx="116.2" cy="517.8" r="3.35" fill="#f87d80" stroke="#000" stroke-width="1.55"/>
<rect x="132.45" y="493.85" width="6.3" height="6.3" fill="#d09a53" stroke="#000" stroke-width="1.5"/>
<rect x="137.85" y="494.85" width="6.3" height="6.3" fill="#d09a53" stroke="#000" stroke-width="1.5"/>
<rect x="133.65" y="506.05" width="6.3" height="6.3" fill="#d09a53" stroke="#000" stroke-width="1.5"/>
<rect x="138.75" y="506.05" width="6.3" height="6.3" fill="#d09a53" stroke="#000" stroke-width="1.5"/>
<rect x="130.15" y="511.15" width="6.3" height="6.3" fill="#d09a53" stroke="#000" stroke-width="1.5"/>
<rect x="155.85" y="422.35" width="6.3" height="6.3" fill="#d09a53" stroke="#000" stroke-width="1.5"/>
<rect x="154.65" y="493.85" width="6.3" height="6.3" fill="#d09a53" stroke="#000" stroke-width="1.5"/>
<rect x="159.75" y="492.45" width="6.3" height="6.3" fill="#d09a53" stroke="#000" stroke-width="1.5"/>
<rect x="151.85" y="500.15" width="6.3" height="6.3" fill="#d09a53" stroke="#000" stroke-width="1.5"/>
<rect x="159.75" y="500.15" width="6.3" height="6.3" fill="#d09a53" stroke="#000" stroke-width="1.5"/>
<rect x="176.85" y="387.35" width="6.3" height="6.3" fill="#0f9e68" stroke="#000" stroke-width="1.5"/>
<rect x="176.85" y="411.85" width="6.3" height="6.3" fill="#0f9e68" stroke="#000" stroke-width="1.5"/>
<rect x="176.85" y="504.15" width="6.3" height="6.3" fill="#0f9e68" stroke="#000" stroke-width="1.5"/>
<rect x="173.35" y="510.65" width="6.3" height="6.3" fill="#0f9e68" stroke="#000" stroke-width="1.5"/>
<rect x="181.05" y="507.15" width="6.3" height="6.3" fill="#0f9e68" stroke="#000" stroke-width="1.5"/>
<rect x="194.35" y="362.35" width="6.3" height="6.3" fill="#0f9e68" stroke="#000" stroke-width="1.5"/>
<rect x="202.55" y="361.15" width="6.3" height="6.3" fill="#0f9e68" stroke="#000" stroke-width="1.5"/>
<rect x="194.35" y="493.65" width="6.3" height="6.3" fill="#0f9e68" stroke="#000" stroke-width="1.5"/>
<rect x="202.55" y="497.15" width="6.3" height="6.3" fill="#0f9e68" stroke="#000" stroke-width="1.5"/>
<rect x="194.35" y="501.35" width="6.3" height="6.3" fill="#0f9e68" stroke="#000" stroke-width="1.5"/>
<path d="M73.2 357.7V349H201.6V357.7" stroke="#000" stroke-width="1.3" fill="none"/>
<path d="M137.5 334.6V341.4M134.56 336.3L140.44 339.7M134.56 339.7L140.44 336.3" stroke="#000" stroke-width="1.35" stroke-linecap="round"/>
<circle cx="137.5" cy="338" r="1.43" fill="#000"/>
<text x="77.3" y="537.2" font-size="12.0" font-weight="bold" text-anchor="end" transform="rotate(-45 77.3 537.2)">0</text>
<text x="98.7" y="537.2" font-size="12.0" font-weight="bold" text-anchor="end" transform="rotate(-45 98.7 537.2)">Reo 0.1</text>
<text x="120.1" y="537.2" font-size="12.0" font-weight="bold" text-anchor="end" transform="rotate(-45 120.1 537.2)">Reo 1</text>
<text x="141.5" y="537.2" font-size="12.0" font-weight="bold" text-anchor="end" transform="rotate(-45 141.5 537.2)">CVA 0.1</text>
<text x="162.9" y="537.2" font-size="12.0" font-weight="bold" text-anchor="end" transform="rotate(-45 162.9 537.2)">CVA 1</text>
<text x="184.3" y="537.2" font-size="12.0" font-weight="bold" text-anchor="end" transform="rotate(-45 184.3 537.2)">HSV 0.1</text>
<text x="205.7" y="537.2" font-size="12.0" font-weight="bold" text-anchor="end" transform="rotate(-45 205.7 537.2)">HSV 1</text>
<text x="226.7" y="327" font-size="19" font-weight="normal" text-anchor="start">(v)</text>
<text x="377" y="325.5" font-size="14.7" font-weight="bold" text-anchor="middle">CXCL10</text>
<text x="244" y="443.5" font-size="13" font-weight="bold" text-anchor="middle" transform="rotate(-90 244 443.5)">CXCL10 (pg/mL)</text>
<text x="378.2" y="589.1" font-size="13.2" font-weight="bold" text-anchor="middle">Virus MOI</text>
<line x1="299.1" y1="364.8" x2="299.1" y2="523" stroke="#000" stroke-width="1.5"/>
<line x1="292.1" y1="522.3" x2="299.1" y2="522.3" stroke="#000" stroke-width="1.5"/>
<text x="290.4" y="526.5" font-size="12.0" font-weight="bold" text-anchor="end">0</text>
<line x1="292.1" y1="490.94" x2="299.1" y2="490.94" stroke="#000" stroke-width="1.5"/>
<text x="290.4" y="495.14" font-size="12.0" font-weight="bold" text-anchor="end">20000</text>
<line x1="292.1" y1="459.58" x2="299.1" y2="459.58" stroke="#000" stroke-width="1.5"/>
<text x="290.4" y="463.78" font-size="12.0" font-weight="bold" text-anchor="end">40000</text>
<line x1="292.1" y1="428.22" x2="299.1" y2="428.22" stroke="#000" stroke-width="1.5"/>
<text x="290.4" y="432.42" font-size="12.0" font-weight="bold" text-anchor="end">60000</text>
<line x1="292.1" y1="396.86" x2="299.1" y2="396.86" stroke="#000" stroke-width="1.5"/>
<text x="290.4" y="401.06" font-size="12.0" font-weight="bold" text-anchor="end">80000</text>
<line x1="292.1" y1="365.5" x2="299.1" y2="365.5" stroke="#000" stroke-width="1.5"/>
<text x="290.4" y="369.7" font-size="12.0" font-weight="bold" text-anchor="end">100000</text>
<line x1="292.1" y1="522.3" x2="450.5" y2="522.3" stroke="#000" stroke-width="1.5"/>
<line x1="313.3" y1="522.3" x2="313.3" y2="528.8" stroke="#000" stroke-width="1.5"/>
<line x1="334.73" y1="522.3" x2="334.73" y2="528.8" stroke="#000" stroke-width="1.5"/>
<line x1="356.16" y1="522.3" x2="356.16" y2="528.8" stroke="#000" stroke-width="1.5"/>
<line x1="377.59" y1="522.3" x2="377.59" y2="528.8" stroke="#000" stroke-width="1.5"/>
<line x1="399.02" y1="522.3" x2="399.02" y2="528.8" stroke="#000" stroke-width="1.5"/>
<line x1="420.45" y1="522.3" x2="420.45" y2="528.8" stroke="#000" stroke-width="1.5"/>
<line x1="441.88" y1="522.3" x2="441.88" y2="528.8" stroke="#000" stroke-width="1.5"/>
<path d="M307.3 522.3V513.3H319.3V522.3" fill="#d6d6d6" stroke="#000" stroke-width="2.3"/>
<path d="M328.7 522.3V444.4H340.7V522.3" fill="#fff" stroke="#000" stroke-width="2.3"/>
<path d="M350.2 522.3V431.1H362.2V522.3" fill="#fff" stroke="#000" stroke-width="2.3"/>
<path d="M371.6 522.3V450.2H383.6V522.3" fill="#a1a0a6" stroke="#000" stroke-width="2.3"/>
<path d="M393 522.3V454.9H405V522.3" fill="#a1a0a6" stroke="#000" stroke-width="2.3"/>
<path d="M414.5 522.3V458.4H426.5V522.3" fill="#636363" stroke="#000" stroke-width="2.3"/>
<path d="M435.9 522.3V511H447.9V522.3" fill="#636363" stroke="#000" stroke-width="2.3"/>
<line x1="313.3" y1="511" x2="313.3" y2="516" stroke="#000" stroke-width="1.3"/>
<line x1="309.8" y1="511" x2="316.8" y2="511" stroke="#000" stroke-width="1.3"/>
<line x1="309.8" y1="516" x2="316.8" y2="516" stroke="#000" stroke-width="1.3"/>
<line x1="334.7" y1="437" x2="334.7" y2="451.9" stroke="#000" stroke-width="1.3"/>
<line x1="331.2" y1="437" x2="338.2" y2="437" stroke="#000" stroke-width="1.3"/>
<line x1="331.2" y1="451.9" x2="338.2" y2="451.9" stroke="#000" stroke-width="1.3"/>
<line x1="356.2" y1="417.5" x2="356.2" y2="443.2" stroke="#000" stroke-width="1.3"/>
<line x1="352.7" y1="417.5" x2="359.7" y2="417.5" stroke="#000" stroke-width="1.3"/>
<line x1="352.7" y1="443.2" x2="359.7" y2="443.2" stroke="#000" stroke-width="1.3"/>
<line x1="377.6" y1="446" x2="377.6" y2="454" stroke="#000" stroke-width="1.3"/>
<line x1="374.1" y1="446" x2="381.1" y2="446" stroke="#000" stroke-width="1.3"/>
<line x1="374.1" y1="454" x2="381.1" y2="454" stroke="#000" stroke-width="1.3"/>
<line x1="399" y1="444.4" x2="399" y2="465.4" stroke="#000" stroke-width="1.3"/>
<line x1="395.5" y1="444.4" x2="402.5" y2="444.4" stroke="#000" stroke-width="1.3"/>
<line x1="395.5" y1="465.4" x2="402.5" y2="465.4" stroke="#000" stroke-width="1.3"/>
<line x1="420.5" y1="453" x2="420.5" y2="464" stroke="#000" stroke-width="1.3"/>
<line x1="417" y1="453" x2="424" y2="453" stroke="#000" stroke-width="1.3"/>
<line x1="417" y1="464" x2="424" y2="464" stroke="#000" stroke-width="1.3"/>
<line x1="441.9" y1="509" x2="441.9" y2="513" stroke="#000" stroke-width="1.3"/>
<line x1="438.4" y1="509" x2="445.4" y2="509" stroke="#000" stroke-width="1.3"/>
<line x1="438.4" y1="513" x2="445.4" y2="513" stroke="#000" stroke-width="1.3"/>
<circle cx="313.2" cy="509.8" r="3.35" fill="none" stroke="#000" stroke-width="1.55"/>
<circle cx="309.5" cy="514.5" r="3.35" fill="none" stroke="#000" stroke-width="1.55"/>
<circle cx="317.2" cy="514.5" r="3.35" fill="none" stroke="#000" stroke-width="1.55"/>
<circle cx="330.5" cy="433.2" r="3.35" fill="#f87d80" stroke="#000" stroke-width="1.55"/>
<circle cx="338.7" cy="435.5" r="3.35" fill="#f87d80" stroke="#000" stroke-width="1.55"/>
<circle cx="334.7" cy="461.9" r="3.35" fill="#f87d80" stroke="#000" stroke-width="1.55"/>
<circle cx="356.2" cy="409.3" r="3.35" fill="#f87d80" stroke="#000" stroke-width="1.55"/>
<circle cx="356.2" cy="428" r="3.35" fill="#f87d80" stroke="#000" stroke-width="1.55"/>
<circle cx="356.2" cy="454.2" r="3.35" fill="#f87d80" stroke="#000" stroke-width="1.55"/>
<rect x="370.55" y="441.95" width="6.3" height="6.3" fill="#d09a53" stroke="#000" stroke-width="1.5"/>
<rect x="378.25" y="442.65" width="6.3" height="6.3" fill="#d09a53" stroke="#000" stroke-width="1.5"/>
<rect x="374.05" y="455.75" width="6.3" height="6.3" fill="#d09a53" stroke="#000" stroke-width="1.5"/>
<rect x="395.85" y="432.35" width="6.3" height="6.3" fill="#d09a53" stroke="#000" stroke-width="1.5"/>
<rect x="395.85" y="454.55" width="6.3" height="6.3" fill="#d09a53" stroke="#000" stroke-width="1.5"/>
<rect x="395.85" y="466.25" width="6.3" height="6.3" fill="#d09a53" stroke="#000" stroke-width="1.5"/>
<rect x="416.85" y="442.85" width="6.3" height="6.3" fill="#0f9e68" stroke="#000" stroke-width="1.5"/>
<rect x="416.85" y="457.55" width="6.3" height="6.3" fill="#0f9e68" stroke="#000" stroke-width="1.5"/>
<rect x="416.85" y="464.55" width="6.3" height="6.3" fill="#0f9e68" stroke="#000" stroke-width="1.5"/>
<rect x="434.85" y="505.95" width="6.3" height="6.3" fill="#0f9e68" stroke="#000" stroke-width="1.5"/>
<rect x="438.55" y="502.45" width="6.3" height="6.3" fill="#0f9e68" stroke="#000" stroke-width="1.5"/>
<rect x="442.55" y="504.75" width="6.3" height="6.3" fill="#0f9e68" stroke="#000" stroke-width="1.5"/>
<path d="M313.3 362.1V353.1H420.5V362.1" stroke="#000" stroke-width="1.45" fill="none"/>
<path d="M360.45 346.25V349.75M358.93 347.12L361.97 348.88M358.93 348.88L361.97 347.12" stroke="#000" stroke-width="1.15" stroke-linecap="round"/>
<circle cx="360.45" cy="348" r="0.73" fill="#000"/>
<path d="M366.6 346.25V349.75M365.08 347.12L368.12 348.88M365.08 348.88L368.12 347.12" stroke="#000" stroke-width="1.15" stroke-linecap="round"/>
<circle cx="366.6" cy="348" r="0.73" fill="#000"/>
<path d="M372.75 346.25V349.75M371.23 347.12L374.27 348.88M371.23 348.88L374.27 347.12" stroke="#000" stroke-width="1.15" stroke-linecap="round"/>
<circle cx="372.75" cy="348" r="0.73" fill="#000"/>
<path d="M313.3 375.9V366.9H399V375.9" stroke="#000" stroke-width="1.45" fill="none"/>
<path d="M349.7 360.05V363.55M348.18 360.92L351.22 362.67M348.18 362.67L351.22 360.92" stroke="#000" stroke-width="1.15" stroke-linecap="round"/>
<circle cx="349.7" cy="361.8" r="0.73" fill="#000"/>
<path d="M355.85 360.05V363.55M354.33 360.92L357.37 362.67M354.33 362.67L357.37 360.92" stroke="#000" stroke-width="1.15" stroke-linecap="round"/>
<circle cx="355.85" cy="361.8" r="0.73" fill="#000"/>
<path d="M362 360.05V363.55M360.48 360.92L363.52 362.67M360.48 362.67L363.52 360.92" stroke="#000" stroke-width="1.15" stroke-linecap="round"/>
<circle cx="362" cy="361.8" r="0.73" fill="#000"/>
<path d="M313.3 390.3V381.3H377.6V390.3" stroke="#000" stroke-width="1.45" fill="none"/>
<path d="M339 374.45V377.95M337.48 375.32L340.52 377.07M337.48 377.07L340.52 375.32" stroke="#000" stroke-width="1.15" stroke-linecap="round"/>
<circle cx="339" cy="376.2" r="0.73" fill="#000"/>
<path d="M345.15 374.45V377.95M343.63 375.32L346.67 377.07M343.63 377.07L346.67 375.32" stroke="#000" stroke-width="1.15" stroke-linecap="round"/>
<circle cx="345.15" cy="376.2" r="0.73" fill="#000"/>
<path d="M351.3 374.45V377.95M349.78 375.32L352.82 377.07M349.78 377.07L352.82 375.32" stroke="#000" stroke-width="1.15" stroke-linecap="round"/>
<circle cx="351.3" cy="376.2" r="0.73" fill="#000"/>
<path d="M313.3 403.7V394.7H356.2V403.7" stroke="#000" stroke-width="1.45" fill="none"/>
<path d="M325.22 387.85V391.35M323.71 388.72L326.74 390.47M323.71 390.47L326.74 388.72" stroke="#000" stroke-width="1.15" stroke-linecap="round"/>
<circle cx="325.22" cy="389.6" r="0.73" fill="#000"/>
<path d="M331.37 387.85V391.35M329.86 388.72L332.89 390.47M329.86 390.47L332.89 388.72" stroke="#000" stroke-width="1.15" stroke-linecap="round"/>
<circle cx="331.37" cy="389.6" r="0.73" fill="#000"/>
<path d="M337.52 387.85V391.35M336.01 388.72L339.04 390.47M336.01 390.47L339.04 388.72" stroke="#000" stroke-width="1.15" stroke-linecap="round"/>
<circle cx="337.52" cy="389.6" r="0.73" fill="#000"/>
<path d="M343.67 387.85V391.35M342.16 388.72L345.19 390.47M342.16 390.47L345.19 388.72" stroke="#000" stroke-width="1.15" stroke-linecap="round"/>
<circle cx="343.67" cy="389.6" r="0.73" fill="#000"/>
<path d="M313.3 425.8V416.8H334.7V425.8" stroke="#000" stroke-width="1.45" fill="none"/>
<path d="M314.47 409.95V413.45M312.96 410.82L315.99 412.57M312.96 412.57L315.99 410.82" stroke="#000" stroke-width="1.15" stroke-linecap="round"/>
<circle cx="314.47" cy="411.7" r="0.73" fill="#000"/>
<path d="M320.62 409.95V413.45M319.11 410.82L322.14 412.57M319.11 412.57L322.14 410.82" stroke="#000" stroke-width="1.15" stroke-linecap="round"/>
<circle cx="320.62" cy="411.7" r="0.73" fill="#000"/>
<path d="M326.77 409.95V413.45M325.26 410.82L328.29 412.57M325.26 412.57L328.29 410.82" stroke="#000" stroke-width="1.15" stroke-linecap="round"/>
<circle cx="326.77" cy="411.7" r="0.73" fill="#000"/>
<path d="M332.92 409.95V413.45M331.41 410.82L334.44 412.57M331.41 412.57L334.44 410.82" stroke="#000" stroke-width="1.15" stroke-linecap="round"/>
<circle cx="332.92" cy="411.7" r="0.73" fill="#000"/>
<text x="317.4" y="539.8" font-size="12.0" font-weight="bold" text-anchor="end" transform="rotate(-45 317.4 539.8)">0</text>
<text x="338.83" y="539.8" font-size="12.0" font-weight="bold" text-anchor="end" transform="rotate(-45 338.83 539.8)">Reo 0.1</text>
<text x="360.26" y="539.8" font-size="12.0" font-weight="bold" text-anchor="end" transform="rotate(-45 360.26 539.8)">Reo 1</text>
<text x="381.69" y="539.8" font-size="12.0" font-weight="bold" text-anchor="end" transform="rotate(-45 381.69 539.8)">CVA 0.1</text>
<text x="403.12" y="539.8" font-size="12.0" font-weight="bold" text-anchor="end" transform="rotate(-45 403.12 539.8)">CVA 1</text>
<text x="424.55" y="539.8" font-size="12.0" font-weight="bold" text-anchor="end" transform="rotate(-45 424.55 539.8)">HSV 0.1</text>
<text x="445.98" y="539.8" font-size="12.0" font-weight="bold" text-anchor="end" transform="rotate(-45 445.98 539.8)">HSV 1</text>
<text x="477.6" y="327" font-size="19" font-weight="normal" text-anchor="start">(vi)</text>
<text x="605" y="325.5" font-size="14.7" font-weight="bold" text-anchor="middle">TRAIL</text>
<text x="498" y="444.7" font-size="13" font-weight="bold" text-anchor="middle" transform="rotate(-90 498 444.7)">TRAIL (pg/mL)</text>
<text x="604.8" y="589.1" font-size="13.2" font-weight="bold" text-anchor="middle">Virus MOI</text>
<line x1="526.5" y1="365.5" x2="526.5" y2="523" stroke="#000" stroke-width="1.5"/>
<line x1="519.5" y1="522.3" x2="526.5" y2="522.3" stroke="#000" stroke-width="1.5"/>
<text x="517.8" y="526.5" font-size="12.0" font-weight="bold" text-anchor="end">0</text>
<line x1="519.5" y1="483.27" x2="526.5" y2="483.27" stroke="#000" stroke-width="1.5"/>
<text x="517.8" y="487.47" font-size="12.0" font-weight="bold" text-anchor="end">20</text>
<line x1="519.5" y1="444.25" x2="526.5" y2="444.25" stroke="#000" stroke-width="1.5"/>
<text x="517.8" y="448.45" font-size="12.0" font-weight="bold" text-anchor="end">40</text>
<line x1="519.5" y1="405.22" x2="526.5" y2="405.22" stroke="#000" stroke-width="1.5"/>
<text x="517.8" y="409.42" font-size="12.0" font-weight="bold" text-anchor="end">60</text>
<line x1="519.5" y1="366.2" x2="526.5" y2="366.2" stroke="#000" stroke-width="1.5"/>
<text x="517.8" y="370.4" font-size="12.0" font-weight="bold" text-anchor="end">80</text>
<line x1="519.5" y1="522.3" x2="685" y2="522.3" stroke="#000" stroke-width="1.5"/>
<line x1="540.2" y1="522.3" x2="540.2" y2="528.8" stroke="#000" stroke-width="1.5"/>
<line x1="561.63" y1="522.3" x2="561.63" y2="528.8" stroke="#000" stroke-width="1.5"/>
<line x1="583.06" y1="522.3" x2="583.06" y2="528.8" stroke="#000" stroke-width="1.5"/>
<line x1="604.49" y1="522.3" x2="604.49" y2="528.8" stroke="#000" stroke-width="1.5"/>
<line x1="625.92" y1="522.3" x2="625.92" y2="528.8" stroke="#000" stroke-width="1.5"/>
<line x1="647.35" y1="522.3" x2="647.35" y2="528.8" stroke="#000" stroke-width="1.5"/>
<line x1="668.78" y1="522.3" x2="668.78" y2="528.8" stroke="#000" stroke-width="1.5"/>
<path d="M534.2 522.3V518.4H546.2V522.3" fill="#000" stroke="#000" stroke-width="2.3"/>
<path d="M555.6 522.3V459.1H567.6V522.3" fill="#fff" stroke="#000" stroke-width="2.3"/>
<path d="M577.1 522.3V422.9H589.1V522.3" fill="#fff" stroke="#000" stroke-width="2.3"/>
<path d="M598.5 522.3V466.1H610.5V522.3" fill="#a1a0a6" stroke="#000" stroke-width="2.3"/>
<path d="M619.9 522.3V478.3H631.9V522.3" fill="#a1a0a6" stroke="#000" stroke-width="2.3"/>
<path d="M641.4 522.3V411.2H653.4V522.3" fill="#636363" stroke="#000" stroke-width="2.3"/>
<path d="M662.8 522.3V500.4H674.8V522.3" fill="#636363" stroke="#000" stroke-width="2.3"/>
<line x1="561.6" y1="451.9" x2="561.6" y2="466.3" stroke="#000" stroke-width="1.3"/>
<line x1="558.1" y1="451.9" x2="565.1" y2="451.9" stroke="#000" stroke-width="1.3"/>
<line x1="558.1" y1="466.3" x2="565.1" y2="466.3" stroke="#000" stroke-width="1.3"/>
<line x1="583.1" y1="411.5" x2="583.1" y2="434.3" stroke="#000" stroke-width="1.3"/>
<line x1="579.6" y1="411.5" x2="586.6" y2="411.5" stroke="#000" stroke-width="1.3"/>
<line x1="579.6" y1="434.3" x2="586.6" y2="434.3" stroke="#000" stroke-width="1.3"/>
<line x1="604.5" y1="460" x2="604.5" y2="472" stroke="#000" stroke-width="1.3"/>
<line x1="601" y1="460" x2="608" y2="460" stroke="#000" stroke-width="1.3"/>
<line x1="601" y1="472" x2="608" y2="472" stroke="#000" stroke-width="1.3"/>
<line x1="625.9" y1="474" x2="625.9" y2="482" stroke="#000" stroke-width="1.3"/>
<line x1="622.4" y1="474" x2="629.4" y2="474" stroke="#000" stroke-width="1.3"/>
<line x1="622.4" y1="482" x2="629.4" y2="482" stroke="#000" stroke-width="1.3"/>
<line x1="647.4" y1="401" x2="647.4" y2="421.5" stroke="#000" stroke-width="1.3"/>
<line x1="643.9" y1="401" x2="650.9" y2="401" stroke="#000" stroke-width="1.3"/>
<line x1="643.9" y1="421.5" x2="650.9" y2="421.5" stroke="#000" stroke-width="1.3"/>
<line x1="668.8" y1="498" x2="668.8" y2="503" stroke="#000" stroke-width="1.3"/>
<line x1="665.3" y1="498" x2="672.3" y2="498" stroke="#000" stroke-width="1.3"/>
<line x1="665.3" y1="503" x2="672.3" y2="503" stroke="#000" stroke-width="1.3"/>
<circle cx="540.2" cy="516.8" r="3.35" fill="none" stroke="#000" stroke-width="1.55"/>
<circle cx="536.2" cy="520.3" r="3.35" fill="none" stroke="#000" stroke-width="1.55"/>
<circle cx="544.9" cy="519.1" r="3.35" fill="none" stroke="#000" stroke-width="1.55"/>
<circle cx="561.7" cy="446.7" r="3.35" fill="#f87d80" stroke="#000" stroke-width="1.55"/>
<circle cx="561.7" cy="460" r="3.35" fill="#f87d80" stroke="#000" stroke-width="1.55"/>
<circle cx="561.7" cy="468.9" r="3.35" fill="#f87d80" stroke="#000" stroke-width="1.55"/>
<circle cx="579.4" cy="408.6" r="3.35" fill="#f87d80" stroke="#000" stroke-width="1.55"/>
<circle cx="587.4" cy="411.2" r="3.35" fill="#f87d80" stroke="#000" stroke-width="1.55"/>
<circle cx="583.4" cy="446.7" r="3.35" fill="#f87d80" stroke="#000" stroke-width="1.55"/>
<rect x="601.75" y="451.75" width="6.3" height="6.3" fill="#d09a53" stroke="#000" stroke-width="1.5"/>
<rect x="597.25" y="466.95" width="6.3" height="6.3" fill="#d09a53" stroke="#000" stroke-width="1.5"/>
<rect x="605.45" y="466.45" width="6.3" height="6.3" fill="#d09a53" stroke="#000" stroke-width="1.5"/>
<rect x="618.85" y="467.35" width="6.3" height="6.3" fill="#d09a53" stroke="#000" stroke-width="1.5"/>
<rect x="626.95" y="473.45" width="6.3" height="6.3" fill="#d09a53" stroke="#000" stroke-width="1.5"/>
<rect x="622.75" y="480.95" width="6.3" height="6.3" fill="#d09a53" stroke="#000" stroke-width="1.5"/>
<rect x="644.85" y="392.55" width="6.3" height="6.3" fill="#0f9e68" stroke="#000" stroke-width="1.5"/>
<rect x="644.45" y="400.35" width="6.3" height="6.3" fill="#0f9e68" stroke="#000" stroke-width="1.5"/>
<rect x="644.45" y="428.85" width="6.3" height="6.3" fill="#0f9e68" stroke="#000" stroke-width="1.5"/>
<rect x="661.55" y="490.25" width="6.3" height="6.3" fill="#0f9e68" stroke="#000" stroke-width="1.5"/>
<rect x="669.45" y="494.45" width="6.3" height="6.3" fill="#0f9e68" stroke="#000" stroke-width="1.5"/>
<rect x="661.55" y="498.95" width="6.3" height="6.3" fill="#0f9e68" stroke="#000" stroke-width="1.5"/>
<path d="M540.2 360.4V351.4H647.4V360.4" stroke="#000" stroke-width="1.45" fill="none"/>
<path d="M584.27 344.55V348.05M582.76 345.42L585.79 347.17M582.76 347.17L585.79 345.42" stroke="#000" stroke-width="1.15" stroke-linecap="round"/>
<circle cx="584.27" cy="346.3" r="0.73" fill="#000"/>
<path d="M590.42 344.55V348.05M588.91 345.42L591.94 347.17M588.91 347.17L591.94 345.42" stroke="#000" stroke-width="1.15" stroke-linecap="round"/>
<circle cx="590.42" cy="346.3" r="0.73" fill="#000"/>
<path d="M596.57 344.55V348.05M595.06 345.42L598.09 347.17M595.06 347.17L598.09 345.42" stroke="#000" stroke-width="1.15" stroke-linecap="round"/>
<circle cx="596.57" cy="346.3" r="0.73" fill="#000"/>
<path d="M602.73 344.55V348.05M601.21 345.42L604.24 347.17M601.21 347.17L604.24 345.42" stroke="#000" stroke-width="1.15" stroke-linecap="round"/>
<circle cx="602.73" cy="346.3" r="0.73" fill="#000"/>
<path d="M540.2 374.5V365.5H625.9V374.5" stroke="#000" stroke-width="1.45" fill="none"/>
<path d="M579.67 358.65V362.15M578.16 359.52L581.19 361.27M578.16 361.27L581.19 359.52" stroke="#000" stroke-width="1.15" stroke-linecap="round"/>
<circle cx="579.67" cy="360.4" r="0.73" fill="#000"/>
<path d="M585.82 358.65V362.15M584.31 359.52L587.34 361.27M584.31 361.27L587.34 359.52" stroke="#000" stroke-width="1.15" stroke-linecap="round"/>
<circle cx="585.82" cy="360.4" r="0.73" fill="#000"/>
<path d="M540.2 389V380H604.5V389" stroke="#000" stroke-width="1.45" fill="none"/>
<path d="M565.9 373.15V376.65M564.38 374.02L567.42 375.77M564.38 375.77L567.42 374.02" stroke="#000" stroke-width="1.15" stroke-linecap="round"/>
<circle cx="565.9" cy="374.9" r="0.73" fill="#000"/>
<path d="M572.05 373.15V376.65M570.53 374.02L573.57 375.77M570.53 375.77L573.57 374.02" stroke="#000" stroke-width="1.15" stroke-linecap="round"/>
<circle cx="572.05" cy="374.9" r="0.73" fill="#000"/>
<path d="M578.2 373.15V376.65M576.68 374.02L579.72 375.77M576.68 375.77L579.72 374.02" stroke="#000" stroke-width="1.15" stroke-linecap="round"/>
<circle cx="578.2" cy="374.9" r="0.73" fill="#000"/>
<path d="M540.2 402.4V393.4H583.1V402.4" stroke="#000" stroke-width="1.45" fill="none"/>
<path d="M552.13 386.55V390.05M550.61 387.42L553.64 389.17M550.61 389.17L553.64 387.42" stroke="#000" stroke-width="1.15" stroke-linecap="round"/>
<circle cx="552.13" cy="388.3" r="0.73" fill="#000"/>
<path d="M558.28 386.55V390.05M556.76 387.42L559.79 389.17M556.76 389.17L559.79 387.42" stroke="#000" stroke-width="1.15" stroke-linecap="round"/>
<circle cx="558.28" cy="388.3" r="0.73" fill="#000"/>
<path d="M564.43 386.55V390.05M562.91 387.42L565.94 389.17M562.91 389.17L565.94 387.42" stroke="#000" stroke-width="1.15" stroke-linecap="round"/>
<circle cx="564.43" cy="388.3" r="0.73" fill="#000"/>
<path d="M570.58 386.55V390.05M569.06 387.42L572.09 389.17M569.06 389.17L572.09 387.42" stroke="#000" stroke-width="1.15" stroke-linecap="round"/>
<circle cx="570.58" cy="388.3" r="0.73" fill="#000"/>
<path d="M540.2 439.3V430.3H561.6V439.3" stroke="#000" stroke-width="1.45" fill="none"/>
<path d="M541.38 423.45V426.95M539.86 424.32L542.89 426.07M539.86 426.07L542.89 424.32" stroke="#000" stroke-width="1.15" stroke-linecap="round"/>
<circle cx="541.38" cy="425.2" r="0.73" fill="#000"/>
<path d="M547.53 423.45V426.95M546.01 424.32L549.04 426.07M546.01 426.07L549.04 424.32" stroke="#000" stroke-width="1.15" stroke-linecap="round"/>
<circle cx="547.53" cy="425.2" r="0.73" fill="#000"/>
<path d="M553.68 423.45V426.95M552.16 424.32L555.19 426.07M552.16 426.07L555.19 424.32" stroke="#000" stroke-width="1.15" stroke-linecap="round"/>
<circle cx="553.68" cy="425.2" r="0.73" fill="#000"/>
<path d="M559.83 423.45V426.95M558.31 424.32L561.34 426.07M558.31 426.07L561.34 424.32" stroke="#000" stroke-width="1.15" stroke-linecap="round"/>
<circle cx="559.83" cy="425.2" r="0.73" fill="#000"/>
<text x="544.3" y="539.8" font-size="12.0" font-weight="bold" text-anchor="end" transform="rotate(-45 544.3 539.8)">0</text>
<text x="565.73" y="539.8" font-size="12.0" font-weight="bold" text-anchor="end" transform="rotate(-45 565.73 539.8)">Reo 0.1</text>
<text x="587.16" y="539.8" font-size="12.0" font-weight="bold" text-anchor="end" transform="rotate(-45 587.16 539.8)">Reo 1</text>
<text x="608.59" y="539.8" font-size="12.0" font-weight="bold" text-anchor="end" transform="rotate(-45 608.59 539.8)">CVA 0.1</text>
<text x="630.02" y="539.8" font-size="12.0" font-weight="bold" text-anchor="end" transform="rotate(-45 630.02 539.8)">CVA 1</text>
<text x="651.45" y="539.8" font-size="12.0" font-weight="bold" text-anchor="end" transform="rotate(-45 651.45 539.8)">HSV 0.1</text>
<text x="672.88" y="539.8" font-size="12.0" font-weight="bold" text-anchor="end" transform="rotate(-45 672.88 539.8)">HSV 1</text>
<text x="1.4" y="631.2" font-size="18.5" font-weight="bold" text-anchor="start">b</text>
<text x="2.7" y="650" font-size="19" font-weight="normal" text-anchor="start">(i)</text>
<text x="198" y="639.2" font-size="14.4" font-weight="bold" text-anchor="middle">THP-1</text>
<text x="41" y="743.2" font-size="14.2" font-weight="bold" text-anchor="middle" transform="rotate(-90 41 743.2)">% DEAD (minus ctrl)</text>
<text x="201.3" y="870.7" font-size="14.2" font-weight="bold" text-anchor="middle">Virus MOI</text>
<line x1="73.2" y1="657.4" x2="73.2" y2="830.3" stroke="#000" stroke-width="1.5"/>
<line x1="66.2" y1="829.6" x2="73.2" y2="829.6" stroke="#000" stroke-width="1.5"/>
<text x="64.5" y="834.2" font-size="12.8" font-weight="bold" text-anchor="end">0</text>
<line x1="66.2" y1="795.3" x2="73.2" y2="795.3" stroke="#000" stroke-width="1.5"/>
<text x="64.5" y="799.9" font-size="12.8" font-weight="bold" text-anchor="end">10</text>
<line x1="66.2" y1="761" x2="73.2" y2="761" stroke="#000" stroke-width="1.5"/>
<text x="64.5" y="765.6" font-size="12.8" font-weight="bold" text-anchor="end">20</text>
<line x1="66.2" y1="726.7" x2="73.2" y2="726.7" stroke="#000" stroke-width="1.5"/>
<text x="64.5" y="731.3" font-size="12.8" font-weight="bold" text-anchor="end">30</text>
<line x1="66.2" y1="692.4" x2="73.2" y2="692.4" stroke="#000" stroke-width="1.5"/>
<text x="64.5" y="697" font-size="12.8" font-weight="bold" text-anchor="end">40</text>
<line x1="66.2" y1="658.1" x2="73.2" y2="658.1" stroke="#000" stroke-width="1.5"/>
<text x="64.5" y="662.7" font-size="12.8" font-weight="bold" text-anchor="end">50</text>
<line x1="66.2" y1="829.6" x2="331" y2="829.6" stroke="#000" stroke-width="1.5"/>
<line x1="89" y1="829.6" x2="89" y2="837.1" stroke="#000" stroke-width="1.5"/>
<line x1="113.1" y1="829.6" x2="113.1" y2="837.1" stroke="#000" stroke-width="1.5"/>
<line x1="137.1" y1="829.6" x2="137.1" y2="837.1" stroke="#000" stroke-width="1.5"/>
<line x1="177.1" y1="829.6" x2="177.1" y2="837.1" stroke="#000" stroke-width="1.5"/>
<line x1="201.1" y1="829.6" x2="201.1" y2="837.1" stroke="#000" stroke-width="1.5"/>
<line x1="225.2" y1="829.6" x2="225.2" y2="837.1" stroke="#000" stroke-width="1.5"/>
<line x1="265.2" y1="829.6" x2="265.2" y2="837.1" stroke="#000" stroke-width="1.5"/>
<line x1="289.3" y1="829.6" x2="289.3" y2="837.1" stroke="#000" stroke-width="1.5"/>
<line x1="313.4" y1="829.6" x2="313.4" y2="837.1" stroke="#000" stroke-width="1.5"/>
<path d="M82 829.6V824H96V829.6" fill="#fff" stroke="#000" stroke-width="2.6"/>
<path d="M106.1 829.6V804.5H120.1V829.6" fill="#fff" stroke="#000" stroke-width="2.6"/>
<path d="M130.1 829.6V780.6H144.1V829.6" fill="#fff" stroke="#000" stroke-width="2.6"/>
<path d="M170.1 829.6V825H184.1V829.6" fill="#a1a0a6" stroke="#000" stroke-width="2.6"/>
<path d="M194.1 829.6V774.6H208.1V829.6" fill="#a1a0a6" stroke="#000" stroke-width="2.6"/>
<path d="M218.2 829.6V774.6H232.2V829.6" fill="#a1a0a6" stroke="#000" stroke-width="2.6"/>
<path d="M258.2 829.6V824.5H272.2V829.6" fill="#636363" stroke="#000" stroke-width="2.6"/>
<path d="M282.3 829.6V795.5H296.3V829.6" fill="#636363" stroke="#000" stroke-width="2.6"/>
<path d="M306.4 829.6V790.4H320.4V829.6" fill="#636363" stroke="#000" stroke-width="2.6"/>
<line x1="113.1" y1="801" x2="113.1" y2="808" stroke="#000" stroke-width="1.3"/>
<line x1="109.1" y1="801" x2="117.1" y2="801" stroke="#000" stroke-width="1.3"/>
<line x1="109.1" y1="808" x2="117.1" y2="808" stroke="#000" stroke-width="1.3"/>
<line x1="137.1" y1="770.8" x2="137.1" y2="790.4" stroke="#000" stroke-width="1.3"/>
<line x1="133.1" y1="770.8" x2="141.1" y2="770.8" stroke="#000" stroke-width="1.3"/>
<line x1="133.1" y1="790.4" x2="141.1" y2="790.4" stroke="#000" stroke-width="1.3"/>
<line x1="177.1" y1="820" x2="177.1" y2="829" stroke="#000" stroke-width="1.3"/>
<line x1="173.1" y1="820" x2="181.1" y2="820" stroke="#000" stroke-width="1.3"/>
<line x1="173.1" y1="829" x2="181.1" y2="829" stroke="#000" stroke-width="1.3"/>
<line x1="201.1" y1="762.9" x2="201.1" y2="786.3" stroke="#000" stroke-width="1.3"/>
<line x1="197.1" y1="762.9" x2="205.1" y2="762.9" stroke="#000" stroke-width="1.3"/>
<line x1="197.1" y1="786.3" x2="205.1" y2="786.3" stroke="#000" stroke-width="1.3"/>
<line x1="225.2" y1="761.2" x2="225.2" y2="785.8" stroke="#000" stroke-width="1.3"/>
<line x1="221.2" y1="761.2" x2="229.2" y2="761.2" stroke="#000" stroke-width="1.3"/>
<line x1="221.2" y1="785.8" x2="229.2" y2="785.8" stroke="#000" stroke-width="1.3"/>
<line x1="265.2" y1="821" x2="265.2" y2="828" stroke="#000" stroke-width="1.3"/>
<line x1="261.2" y1="821" x2="269.2" y2="821" stroke="#000" stroke-width="1.3"/>
<line x1="261.2" y1="828" x2="269.2" y2="828" stroke="#000" stroke-width="1.3"/>
<line x1="289.3" y1="788" x2="289.3" y2="803" stroke="#000" stroke-width="1.3"/>
<line x1="285.3" y1="788" x2="293.3" y2="788" stroke="#000" stroke-width="1.3"/>
<line x1="285.3" y1="803" x2="293.3" y2="803" stroke="#000" stroke-width="1.3"/>
<line x1="313.4" y1="780.4" x2="313.4" y2="800.4" stroke="#000" stroke-width="1.3"/>
<line x1="309.4" y1="780.4" x2="317.4" y2="780.4" stroke="#000" stroke-width="1.3"/>
<line x1="309.4" y1="800.4" x2="317.4" y2="800.4" stroke="#000" stroke-width="1.3"/>
<circle cx="84.3" cy="819.2" r="3.55" fill="#f87d80" stroke="#000" stroke-width="1.55"/>
<circle cx="93.7" cy="825" r="3.55" fill="#f87d80" stroke="#000" stroke-width="1.55"/>
<circle cx="84.8" cy="829" r="3.55" fill="#f87d80" stroke="#000" stroke-width="1.55"/>
<circle cx="113.1" cy="793.5" r="3.55" fill="#f87d80" stroke="#000" stroke-width="1.55"/>
<circle cx="108.9" cy="802.6" r="3.55" fill="#f87d80" stroke="#000" stroke-width="1.55"/>
<circle cx="117.5" cy="802.1" r="3.55" fill="#f87d80" stroke="#000" stroke-width="1.55"/>
<circle cx="132.7" cy="766.6" r="3.55" fill="#f87d80" stroke="#000" stroke-width="1.55"/>
<circle cx="141.6" cy="772.2" r="3.55" fill="#f87d80" stroke="#000" stroke-width="1.55"/>
<circle cx="136.9" cy="800.5" r="3.55" fill="#f87d80" stroke="#000" stroke-width="1.55"/>
<rect x="173.8" y="809.8" width="6.6" height="6.6" fill="#d09a53" stroke="#000" stroke-width="1.5"/>
<rect x="169.3" y="825.7" width="6.6" height="6.6" fill="#d09a53" stroke="#000" stroke-width="1.5"/>
<rect x="178" y="825.7" width="6.6" height="6.6" fill="#d09a53" stroke="#000" stroke-width="1.5"/>
<rect x="197.8" y="748.6" width="6.6" height="6.6" fill="#d09a53" stroke="#000" stroke-width="1.5"/>
<rect x="193.2" y="782" width="6.6" height="6.6" fill="#d09a53" stroke="#000" stroke-width="1.5"/>
<rect x="202.5" y="780.1" width="6.6" height="6.6" fill="#d09a53" stroke="#000" stroke-width="1.5"/>
<rect x="221.9" y="751.4" width="6.6" height="6.6" fill="#d09a53" stroke="#000" stroke-width="1.5"/>
<rect x="221.9" y="766.1" width="6.6" height="6.6" fill="#d09a53" stroke="#000" stroke-width="1.5"/>
<rect x="221.9" y="793.5" width="6.6" height="6.6" fill="#d09a53" stroke="#000" stroke-width="1.5"/>
<rect x="257.4" y="816" width="6.6" height="6.6" fill="#0f9e68" stroke="#000" stroke-width="1.5"/>
<rect x="266.7" y="822.4" width="6.6" height="6.6" fill="#0f9e68" stroke="#000" stroke-width="1.5"/>
<rect x="257.4" y="825.1" width="6.6" height="6.6" fill="#0f9e68" stroke="#000" stroke-width="1.5"/>
<rect x="286" y="779.5" width="6.6" height="6.6" fill="#0f9e68" stroke="#000" stroke-width="1.5"/>
<rect x="281.5" y="799.9" width="6.6" height="6.6" fill="#0f9e68" stroke="#000" stroke-width="1.5"/>
<rect x="290.6" y="794" width="6.6" height="6.6" fill="#0f9e68" stroke="#000" stroke-width="1.5"/>
<rect x="310.1" y="768.6" width="6.6" height="6.6" fill="#0f9e68" stroke="#000" stroke-width="1.5"/>
<rect x="305.6" y="797.2" width="6.6" height="6.6" fill="#0f9e68" stroke="#000" stroke-width="1.5"/>
<rect x="314.9" y="792.4" width="6.6" height="6.6" fill="#0f9e68" stroke="#000" stroke-width="1.5"/>
<path d="M89 714.5V705H137.1V714.5" stroke="#000" stroke-width="1.45" fill="none"/>
<path d="M106.6 698.15V701.65M105.08 699.02L108.12 700.77M105.08 700.77L108.12 699.02" stroke="#000" stroke-width="1.15" stroke-linecap="round"/>
<circle cx="106.6" cy="699.9" r="0.73" fill="#000"/>
<path d="M112.75 698.15V701.65M111.23 699.02L114.27 700.77M111.23 700.77L114.27 699.02" stroke="#000" stroke-width="1.15" stroke-linecap="round"/>
<circle cx="112.75" cy="699.9" r="0.73" fill="#000"/>
<path d="M118.9 698.15V701.65M117.38 699.02L120.42 700.77M117.38 700.77L120.42 699.02" stroke="#000" stroke-width="1.15" stroke-linecap="round"/>
<circle cx="118.9" cy="699.9" r="0.73" fill="#000"/>
<path d="M89 741.1V731.6H113.1V741.1" stroke="#000" stroke-width="1.45" fill="none"/>
<path d="M100.75 724.75V728.25M99.23 725.62L102.27 727.38M99.23 727.38L102.27 725.62" stroke="#000" stroke-width="1.15" stroke-linecap="round"/>
<circle cx="100.75" cy="726.5" r="0.73" fill="#000"/>
<path d="M177.1 714.5V705H225.2V714.5" stroke="#000" stroke-width="1.45" fill="none"/>
<path d="M191.62 698.15V701.65M190.11 699.02L193.14 700.77M190.11 700.77L193.14 699.02" stroke="#000" stroke-width="1.15" stroke-linecap="round"/>
<circle cx="191.62" cy="699.9" r="0.73" fill="#000"/>
<path d="M197.77 698.15V701.65M196.26 699.02L199.29 700.77M196.26 700.77L199.29 699.02" stroke="#000" stroke-width="1.15" stroke-linecap="round"/>
<circle cx="197.77" cy="699.9" r="0.73" fill="#000"/>
<path d="M203.92 698.15V701.65M202.41 699.02L205.44 700.77M202.41 700.77L205.44 699.02" stroke="#000" stroke-width="1.15" stroke-linecap="round"/>
<circle cx="203.92" cy="699.9" r="0.73" fill="#000"/>
<path d="M210.07 698.15V701.65M208.56 699.02L211.59 700.77M208.56 700.77L211.59 699.02" stroke="#000" stroke-width="1.15" stroke-linecap="round"/>
<circle cx="210.07" cy="699.9" r="0.73" fill="#000"/>
<path d="M177.1 741.1V731.6H201.1V741.1" stroke="#000" stroke-width="1.45" fill="none"/>
<path d="M179.57 724.75V728.25M178.06 725.62L181.09 727.38M178.06 727.38L181.09 725.62" stroke="#000" stroke-width="1.15" stroke-linecap="round"/>
<circle cx="179.57" cy="726.5" r="0.73" fill="#000"/>
<path d="M185.72 724.75V728.25M184.21 725.62L187.24 727.38M184.21 727.38L187.24 725.62" stroke="#000" stroke-width="1.15" stroke-linecap="round"/>
<circle cx="185.72" cy="726.5" r="0.73" fill="#000"/>
<path d="M191.88 724.75V728.25M190.36 725.62L193.39 727.38M190.36 727.38L193.39 725.62" stroke="#000" stroke-width="1.15" stroke-linecap="round"/>
<circle cx="191.88" cy="726.5" r="0.73" fill="#000"/>
<path d="M198.02 724.75V728.25M196.51 725.62L199.54 727.38M196.51 727.38L199.54 725.62" stroke="#000" stroke-width="1.15" stroke-linecap="round"/>
<circle cx="198.02" cy="726.5" r="0.73" fill="#000"/>
<path d="M265.2 714.5V705H313.4V714.5" stroke="#000" stroke-width="1.45" fill="none"/>
<path d="M285.92 698.15V701.65M284.41 699.02L287.44 700.77M284.41 700.77L287.44 699.02" stroke="#000" stroke-width="1.15" stroke-linecap="round"/>
<circle cx="285.92" cy="699.9" r="0.73" fill="#000"/>
<path d="M292.07 698.15V701.65M290.56 699.02L293.59 700.77M290.56 700.77L293.59 699.02" stroke="#000" stroke-width="1.15" stroke-linecap="round"/>
<circle cx="292.07" cy="699.9" r="0.73" fill="#000"/>
<path d="M265.2 741.1V731.6H289.3V741.1" stroke="#000" stroke-width="1.45" fill="none"/>
<path d="M273.88 724.75V728.25M272.36 725.62L275.39 727.38M272.36 727.38L275.39 725.62" stroke="#000" stroke-width="1.15" stroke-linecap="round"/>
<circle cx="273.88" cy="726.5" r="0.73" fill="#000"/>
<path d="M280.02 724.75V728.25M278.51 725.62L281.54 727.38M278.51 727.38L281.54 725.62" stroke="#000" stroke-width="1.15" stroke-linecap="round"/>
<circle cx="280.02" cy="726.5" r="0.73" fill="#000"/>
<text x="89" y="850.5" font-size="13.0" font-weight="bold" text-anchor="middle">0</text>
<text x="113.1" y="850.5" font-size="13.0" font-weight="bold" text-anchor="middle">0.1</text>
<text x="137.1" y="850.5" font-size="13.0" font-weight="bold" text-anchor="middle">1</text>
<text x="177.1" y="850.5" font-size="13.0" font-weight="bold" text-anchor="middle">0</text>
<text x="201.1" y="850.5" font-size="13.0" font-weight="bold" text-anchor="middle">0.1</text>
<text x="225.2" y="850.5" font-size="13.0" font-weight="bold" text-anchor="middle">1</text>
<text x="265.2" y="850.5" font-size="13.0" font-weight="bold" text-anchor="middle">0</text>
<text x="289.3" y="850.5" font-size="13.0" font-weight="bold" text-anchor="middle">0.1</text>
<text x="313.4" y="850.5" font-size="13.0" font-weight="bold" text-anchor="middle">1</text>
<text x="339.9" y="650" font-size="19" font-weight="normal" text-anchor="start">(ii)</text>
<text x="527.3" y="639.2" font-size="14.4" font-weight="bold" text-anchor="middle">KG-1</text>
<text x="369.7" y="744.4" font-size="14.2" font-weight="bold" text-anchor="middle" transform="rotate(-90 369.7 744.4)">% DEAD (minus ctrl)</text>
<text x="528.6" y="870.7" font-size="14.2" font-weight="bold" text-anchor="middle">Virus MOI</text>
<line x1="401.5" y1="658.3" x2="401.5" y2="830.5" stroke="#000" stroke-width="1.5"/>
<line x1="394.5" y1="829.8" x2="401.5" y2="829.8" stroke="#000" stroke-width="1.5"/>
<text x="392.8" y="834.4" font-size="12.8" font-weight="bold" text-anchor="end">0</text>
<line x1="394.5" y1="795.64" x2="401.5" y2="795.64" stroke="#000" stroke-width="1.5"/>
<text x="392.8" y="800.24" font-size="12.8" font-weight="bold" text-anchor="end">10</text>
<line x1="394.5" y1="761.48" x2="401.5" y2="761.48" stroke="#000" stroke-width="1.5"/>
<text x="392.8" y="766.08" font-size="12.8" font-weight="bold" text-anchor="end">20</text>
<line x1="394.5" y1="727.32" x2="401.5" y2="727.32" stroke="#000" stroke-width="1.5"/>
<text x="392.8" y="731.92" font-size="12.8" font-weight="bold" text-anchor="end">30</text>
<line x1="394.5" y1="693.16" x2="401.5" y2="693.16" stroke="#000" stroke-width="1.5"/>
<text x="392.8" y="697.76" font-size="12.8" font-weight="bold" text-anchor="end">40</text>
<line x1="394.5" y1="659" x2="401.5" y2="659" stroke="#000" stroke-width="1.5"/>
<text x="392.8" y="663.6" font-size="12.8" font-weight="bold" text-anchor="end">50</text>
<line x1="394.5" y1="829.8" x2="657.5" y2="829.8" stroke="#000" stroke-width="1.5"/>
<line x1="417.3" y1="829.8" x2="417.3" y2="837.3" stroke="#000" stroke-width="1.5"/>
<line x1="441.5" y1="829.8" x2="441.5" y2="837.3" stroke="#000" stroke-width="1.5"/>
<line x1="465.6" y1="829.8" x2="465.6" y2="837.3" stroke="#000" stroke-width="1.5"/>
<line x1="505.6" y1="829.8" x2="505.6" y2="837.3" stroke="#000" stroke-width="1.5"/>
<line x1="529.6" y1="829.8" x2="529.6" y2="837.3" stroke="#000" stroke-width="1.5"/>
<line x1="553.2" y1="829.8" x2="553.2" y2="837.3" stroke="#000" stroke-width="1.5"/>
<line x1="593.3" y1="829.8" x2="593.3" y2="837.3" stroke="#000" stroke-width="1.5"/>
<line x1="617" y1="829.8" x2="617" y2="837.3" stroke="#000" stroke-width="1.5"/>
<line x1="640.8" y1="829.8" x2="640.8" y2="837.3" stroke="#000" stroke-width="1.5"/>
<path d="M410.3 829.8V797.4H424.3V829.8" fill="#fff" stroke="#000" stroke-width="2.6"/>
<path d="M434.5 829.8V779H448.5V829.8" fill="#fff" stroke="#000" stroke-width="2.6"/>
<path d="M458.6 829.8V758.4H472.6V829.8" fill="#fff" stroke="#000" stroke-width="2.6"/>
<path d="M498.6 829.8V798.8H512.6V829.8" fill="#a1a0a6" stroke="#000" stroke-width="2.6"/>
<path d="M522.6 829.8V804.4H536.6V829.8" fill="#a1a0a6" stroke="#000" stroke-width="2.6"/>
<path d="M546.2 829.8V772.9H560.2V829.8" fill="#a1a0a6" stroke="#000" stroke-width="2.6"/>
<path d="M586.3 829.8V800H600.3V829.8" fill="#636363" stroke="#000" stroke-width="2.6"/>
<path d="M610 829.8V765.1H624V829.8" fill="#636363" stroke="#000" stroke-width="2.6"/>
<path d="M633.8 829.8V742.2H647.8V829.8" fill="#636363" stroke="#000" stroke-width="2.6"/>
<line x1="417.3" y1="788.3" x2="417.3" y2="806.5" stroke="#000" stroke-width="1.3"/>
<line x1="413.3" y1="788.3" x2="421.3" y2="788.3" stroke="#000" stroke-width="1.3"/>
<line x1="413.3" y1="806.5" x2="421.3" y2="806.5" stroke="#000" stroke-width="1.3"/>
<line x1="441.5" y1="771" x2="441.5" y2="787" stroke="#000" stroke-width="1.3"/>
<line x1="437.5" y1="771" x2="445.5" y2="771" stroke="#000" stroke-width="1.3"/>
<line x1="437.5" y1="787" x2="445.5" y2="787" stroke="#000" stroke-width="1.3"/>
<line x1="465.6" y1="750.2" x2="465.6" y2="765.4" stroke="#000" stroke-width="1.3"/>
<line x1="461.6" y1="750.2" x2="469.6" y2="750.2" stroke="#000" stroke-width="1.3"/>
<line x1="461.6" y1="765.4" x2="469.6" y2="765.4" stroke="#000" stroke-width="1.3"/>
<line x1="505.6" y1="776.6" x2="505.6" y2="819.6" stroke="#000" stroke-width="1.3"/>
<line x1="501.6" y1="776.6" x2="509.6" y2="776.6" stroke="#000" stroke-width="1.3"/>
<line x1="501.6" y1="819.6" x2="509.6" y2="819.6" stroke="#000" stroke-width="1.3"/>
<line x1="529.6" y1="796" x2="529.6" y2="812" stroke="#000" stroke-width="1.3"/>
<line x1="525.6" y1="796" x2="533.6" y2="796" stroke="#000" stroke-width="1.3"/>
<line x1="525.6" y1="812" x2="533.6" y2="812" stroke="#000" stroke-width="1.3"/>
<line x1="553.2" y1="756.5" x2="553.2" y2="787.1" stroke="#000" stroke-width="1.3"/>
<line x1="549.2" y1="756.5" x2="557.2" y2="756.5" stroke="#000" stroke-width="1.3"/>
<line x1="549.2" y1="787.1" x2="557.2" y2="787.1" stroke="#000" stroke-width="1.3"/>
<line x1="593.3" y1="778.9" x2="593.3" y2="818.3" stroke="#000" stroke-width="1.3"/>
<line x1="589.3" y1="778.9" x2="597.3" y2="778.9" stroke="#000" stroke-width="1.3"/>
<line x1="589.3" y1="818.3" x2="597.3" y2="818.3" stroke="#000" stroke-width="1.3"/>
<line x1="617" y1="743.7" x2="617" y2="784.3" stroke="#000" stroke-width="1.3"/>
<line x1="613" y1="743.7" x2="621" y2="743.7" stroke="#000" stroke-width="1.3"/>
<line x1="613" y1="784.3" x2="621" y2="784.3" stroke="#000" stroke-width="1.3"/>
<line x1="640.8" y1="740" x2="640.8" y2="745" stroke="#000" stroke-width="1.3"/>
<line x1="636.8" y1="740" x2="644.8" y2="740" stroke="#000" stroke-width="1.3"/>
<line x1="636.8" y1="745" x2="644.8" y2="745" stroke="#000" stroke-width="1.3"/>
<circle cx="417.5" cy="771.9" r="3.55" fill="#f87d80" stroke="#000" stroke-width="1.55"/>
<circle cx="417.5" cy="800.9" r="3.55" fill="#f87d80" stroke="#000" stroke-width="1.55"/>
<circle cx="413.3" cy="807.5" r="3.55" fill="#f87d80" stroke="#000" stroke-width="1.55"/>
<circle cx="422.2" cy="806.8" r="3.55" fill="#f87d80" stroke="#000" stroke-width="1.55"/>
<circle cx="441.6" cy="754.9" r="3.55" fill="#f87d80" stroke="#000" stroke-width="1.55"/>
<circle cx="441.6" cy="770.8" r="3.55" fill="#f87d80" stroke="#000" stroke-width="1.55"/>
<circle cx="441.6" cy="788.8" r="3.55" fill="#f87d80" stroke="#000" stroke-width="1.55"/>
<circle cx="441.6" cy="797.4" r="3.55" fill="#f87d80" stroke="#000" stroke-width="1.55"/>
<circle cx="465.4" cy="743.2" r="3.55" fill="#f87d80" stroke="#000" stroke-width="1.55"/>
<circle cx="460.7" cy="752.6" r="3.55" fill="#f87d80" stroke="#000" stroke-width="1.55"/>
<circle cx="470.1" cy="758.4" r="3.55" fill="#f87d80" stroke="#000" stroke-width="1.55"/>
<circle cx="465.4" cy="777.6" r="3.55" fill="#f87d80" stroke="#000" stroke-width="1.55"/>
<rect x="502.3" y="754.4" width="6.6" height="6.6" fill="#d09a53" stroke="#000" stroke-width="1.5"/>
<rect x="502.3" y="803.5" width="6.6" height="6.6" fill="#d09a53" stroke="#000" stroke-width="1.5"/>
<rect x="502.3" y="825.9" width="6.6" height="6.6" fill="#d09a53" stroke="#000" stroke-width="1.5"/>
<rect x="526.3" y="787.3" width="6.6" height="6.6" fill="#d09a53" stroke="#000" stroke-width="1.5"/>
<rect x="526.3" y="799.5" width="6.6" height="6.6" fill="#d09a53" stroke="#000" stroke-width="1.5"/>
<rect x="526.3" y="814" width="6.6" height="6.6" fill="#d09a53" stroke="#000" stroke-width="1.5"/>
<rect x="549.9" y="746.9" width="6.6" height="6.6" fill="#d09a53" stroke="#000" stroke-width="1.5"/>
<rect x="549.9" y="760.9" width="6.6" height="6.6" fill="#d09a53" stroke="#000" stroke-width="1.5"/>
<rect x="549.9" y="797.8" width="6.6" height="6.6" fill="#d09a53" stroke="#000" stroke-width="1.5"/>
<rect x="590" y="758" width="6.6" height="6.6" fill="#0f9e68" stroke="#000" stroke-width="1.5"/>
<rect x="590" y="803.2" width="6.6" height="6.6" fill="#0f9e68" stroke="#000" stroke-width="1.5"/>
<rect x="590" y="824.2" width="6.6" height="6.6" fill="#0f9e68" stroke="#000" stroke-width="1.5"/>
<rect x="609.3" y="739.2" width="6.6" height="6.6" fill="#0f9e68" stroke="#000" stroke-width="1.5"/>
<rect x="618.3" y="739.6" width="6.6" height="6.6" fill="#0f9e68" stroke="#000" stroke-width="1.5"/>
<rect x="613.7" y="802.2" width="6.6" height="6.6" fill="#0f9e68" stroke="#000" stroke-width="1.5"/>
<rect x="633.3" y="734.6" width="6.6" height="6.6" fill="#0f9e68" stroke="#000" stroke-width="1.5"/>
<rect x="633.3" y="741.9" width="6.6" height="6.6" fill="#0f9e68" stroke="#000" stroke-width="1.5"/>
<rect x="642.2" y="741.2" width="6.6" height="6.6" fill="#0f9e68" stroke="#000" stroke-width="1.5"/>
<path d="M593.3 727.6V718.1H640.8V727.6" stroke="#000" stroke-width="1.45" fill="none"/>
<path d="M616.75 711.25V714.75M615.23 712.12L618.27 713.88M615.23 713.88L618.27 712.12" stroke="#000" stroke-width="1.15" stroke-linecap="round"/>
<circle cx="616.75" cy="713" r="0.73" fill="#000"/>
<text x="417.3" y="850.7" font-size="13.0" font-weight="bold" text-anchor="middle">0</text>
<text x="441.5" y="850.7" font-size="13.0" font-weight="bold" text-anchor="middle">0.1</text>
<text x="465.6" y="850.7" font-size="13.0" font-weight="bold" text-anchor="middle">1</text>
<text x="505.6" y="850.7" font-size="13.0" font-weight="bold" text-anchor="middle">0</text>
<text x="529.6" y="850.7" font-size="13.0" font-weight="bold" text-anchor="middle">0.1</text>
<text x="553.2" y="850.7" font-size="13.0" font-weight="bold" text-anchor="middle">1</text>
<text x="593.3" y="850.7" font-size="13.0" font-weight="bold" text-anchor="middle">0</text>
<text x="617" y="850.7" font-size="13.0" font-weight="bold" text-anchor="middle">0.1</text>
<text x="640.8" y="850.7" font-size="13.0" font-weight="bold" text-anchor="middle">1</text>
<text x="2.7" y="914.2" font-size="19" font-weight="normal" text-anchor="start">(iii)</text>
<text x="198" y="907.2" font-size="14.5" font-weight="bold" text-anchor="middle">HL-60</text>
<text x="41" y="1010.5" font-size="14.2" font-weight="bold" text-anchor="middle" transform="rotate(-90 41 1010.5)">% DEAD (minus ctrl)</text>
<text x="200.5" y="1137.5" font-size="14.2" font-weight="bold" text-anchor="middle">Virus MOI</text>
<line x1="73.2" y1="925.5" x2="73.2" y2="1096.5" stroke="#000" stroke-width="1.5"/>
<line x1="66.2" y1="1095.8" x2="73.2" y2="1095.8" stroke="#000" stroke-width="1.5"/>
<text x="64.5" y="1100.4" font-size="12.8" font-weight="bold" text-anchor="end">0</text>
<line x1="66.2" y1="1061.88" x2="73.2" y2="1061.88" stroke="#000" stroke-width="1.5"/>
<text x="64.5" y="1066.48" font-size="12.8" font-weight="bold" text-anchor="end">10</text>
<line x1="66.2" y1="1027.96" x2="73.2" y2="1027.96" stroke="#000" stroke-width="1.5"/>
<text x="64.5" y="1032.56" font-size="12.8" font-weight="bold" text-anchor="end">20</text>
<line x1="66.2" y1="994.04" x2="73.2" y2="994.04" stroke="#000" stroke-width="1.5"/>
<text x="64.5" y="998.64" font-size="12.8" font-weight="bold" text-anchor="end">30</text>
<line x1="66.2" y1="960.12" x2="73.2" y2="960.12" stroke="#000" stroke-width="1.5"/>
<text x="64.5" y="964.72" font-size="12.8" font-weight="bold" text-anchor="end">40</text>
<line x1="66.2" y1="926.2" x2="73.2" y2="926.2" stroke="#000" stroke-width="1.5"/>
<text x="64.5" y="930.8" font-size="12.8" font-weight="bold" text-anchor="end">50</text>
<line x1="66.2" y1="1095.8" x2="329.6" y2="1095.8" stroke="#000" stroke-width="1.5"/>
<line x1="89" y1="1095.8" x2="89" y2="1103.3" stroke="#000" stroke-width="1.5"/>
<line x1="112.8" y1="1095.8" x2="112.8" y2="1103.3" stroke="#000" stroke-width="1.5"/>
<line x1="137.1" y1="1095.8" x2="137.1" y2="1103.3" stroke="#000" stroke-width="1.5"/>
<line x1="177.1" y1="1095.8" x2="177.1" y2="1103.3" stroke="#000" stroke-width="1.5"/>
<line x1="201.1" y1="1095.8" x2="201.1" y2="1103.3" stroke="#000" stroke-width="1.5"/>
<line x1="224.5" y1="1095.8" x2="224.5" y2="1103.3" stroke="#000" stroke-width="1.5"/>
<line x1="264.7" y1="1095.8" x2="264.7" y2="1103.3" stroke="#000" stroke-width="1.5"/>
<line x1="288.8" y1="1095.8" x2="288.8" y2="1103.3" stroke="#000" stroke-width="1.5"/>
<line x1="312.6" y1="1095.8" x2="312.6" y2="1103.3" stroke="#000" stroke-width="1.5"/>
<path d="M82 1095.8V1062.6H96V1095.8" fill="#fff" stroke="#000" stroke-width="2.6"/>
<path d="M105.8 1095.8V1052.6H119.8V1095.8" fill="#fff" stroke="#000" stroke-width="2.6"/>
<path d="M130.1 1095.8V1032.7H144.1V1095.8" fill="#fff" stroke="#000" stroke-width="2.6"/>
<path d="M170.1 1095.8V1082.5H184.1V1095.8" fill="#a1a0a6" stroke="#000" stroke-width="2.6"/>
<path d="M194.1 1095.8V1067.1H208.1V1095.8" fill="#a1a0a6" stroke="#000" stroke-width="2.6"/>
<path d="M217.5 1095.8V1054.9H231.5V1095.8" fill="#a1a0a6" stroke="#000" stroke-width="2.6"/>
<path d="M257.7 1095.8V1079.3H271.7V1095.8" fill="#636363" stroke="#000" stroke-width="2.6"/>
<path d="M281.8 1095.8V1071.8H295.8V1095.8" fill="#636363" stroke="#000" stroke-width="2.6"/>
<path d="M305.6 1095.8V1062.2H319.6V1095.8" fill="#636363" stroke="#000" stroke-width="2.6"/>
<line x1="89" y1="1059" x2="89" y2="1066" stroke="#000" stroke-width="1.3"/>
<line x1="85" y1="1059" x2="93" y2="1059" stroke="#000" stroke-width="1.3"/>
<line x1="85" y1="1066" x2="93" y2="1066" stroke="#000" stroke-width="1.3"/>
<line x1="112.8" y1="1049" x2="112.8" y2="1056" stroke="#000" stroke-width="1.3"/>
<line x1="108.8" y1="1049" x2="116.8" y2="1049" stroke="#000" stroke-width="1.3"/>
<line x1="108.8" y1="1056" x2="116.8" y2="1056" stroke="#000" stroke-width="1.3"/>
<line x1="137.1" y1="1029" x2="137.1" y2="1036.5" stroke="#000" stroke-width="1.3"/>
<line x1="133.1" y1="1029" x2="141.1" y2="1029" stroke="#000" stroke-width="1.3"/>
<line x1="133.1" y1="1036.5" x2="141.1" y2="1036.5" stroke="#000" stroke-width="1.3"/>
<line x1="177.1" y1="1080" x2="177.1" y2="1085" stroke="#000" stroke-width="1.3"/>
<line x1="173.1" y1="1080" x2="181.1" y2="1080" stroke="#000" stroke-width="1.3"/>
<line x1="173.1" y1="1085" x2="181.1" y2="1085" stroke="#000" stroke-width="1.3"/>
<line x1="201.1" y1="1061" x2="201.1" y2="1073" stroke="#000" stroke-width="1.3"/>
<line x1="197.1" y1="1061" x2="205.1" y2="1061" stroke="#000" stroke-width="1.3"/>
<line x1="197.1" y1="1073" x2="205.1" y2="1073" stroke="#000" stroke-width="1.3"/>
<line x1="224.5" y1="1042" x2="224.5" y2="1067" stroke="#000" stroke-width="1.3"/>
<line x1="220.5" y1="1042" x2="228.5" y2="1042" stroke="#000" stroke-width="1.3"/>
<line x1="220.5" y1="1067" x2="228.5" y2="1067" stroke="#000" stroke-width="1.3"/>
<line x1="264.7" y1="1065.4" x2="264.7" y2="1093" stroke="#000" stroke-width="1.3"/>
<line x1="260.7" y1="1065.4" x2="268.7" y2="1065.4" stroke="#000" stroke-width="1.3"/>
<line x1="260.7" y1="1093" x2="268.7" y2="1093" stroke="#000" stroke-width="1.3"/>
<line x1="288.8" y1="1053" x2="288.8" y2="1090.6" stroke="#000" stroke-width="1.3"/>
<line x1="284.8" y1="1053" x2="292.8" y2="1053" stroke="#000" stroke-width="1.3"/>
<line x1="284.8" y1="1090.6" x2="292.8" y2="1090.6" stroke="#000" stroke-width="1.3"/>
<line x1="312.6" y1="1044.2" x2="312.6" y2="1080.2" stroke="#000" stroke-width="1.3"/>
<line x1="308.6" y1="1044.2" x2="316.6" y2="1044.2" stroke="#000" stroke-width="1.3"/>
<line x1="308.6" y1="1080.2" x2="316.6" y2="1080.2" stroke="#000" stroke-width="1.3"/>
<circle cx="84.3" cy="1055.6" r="3.55" fill="#f87d80" stroke="#000" stroke-width="1.55"/>
<circle cx="87.8" cy="1060.3" r="3.55" fill="#f87d80" stroke="#000" stroke-width="1.55"/>
<circle cx="93.7" cy="1060.3" r="3.55" fill="#f87d80" stroke="#000" stroke-width="1.55"/>
<circle cx="84.3" cy="1065.9" r="3.55" fill="#f87d80" stroke="#000" stroke-width="1.55"/>
<circle cx="108.9" cy="1046.8" r="3.55" fill="#f87d80" stroke="#000" stroke-width="1.55"/>
<circle cx="113.5" cy="1045.6" r="3.55" fill="#f87d80" stroke="#000" stroke-width="1.55"/>
<circle cx="118.2" cy="1047.2" r="3.55" fill="#f87d80" stroke="#000" stroke-width="1.55"/>
<circle cx="110.5" cy="1060.3" r="3.55" fill="#f87d80" stroke="#000" stroke-width="1.55"/>
<circle cx="115.2" cy="1059.6" r="3.55" fill="#f87d80" stroke="#000" stroke-width="1.55"/>
<circle cx="136.9" cy="1017.6" r="3.55" fill="#f87d80" stroke="#000" stroke-width="1.55"/>
<circle cx="132.2" cy="1032" r="3.55" fill="#f87d80" stroke="#000" stroke-width="1.55"/>
<circle cx="137.6" cy="1032" r="3.55" fill="#f87d80" stroke="#000" stroke-width="1.55"/>
<circle cx="141.6" cy="1037.9" r="3.55" fill="#f87d80" stroke="#000" stroke-width="1.55"/>
<circle cx="132.2" cy="1040.2" r="3.55" fill="#f87d80" stroke="#000" stroke-width="1.55"/>
<rect x="168.7" y="1076.2" width="6.6" height="6.6" fill="#d09a53" stroke="#000" stroke-width="1.5"/>
<rect x="173.8" y="1072.7" width="6.6" height="6.6" fill="#d09a53" stroke="#000" stroke-width="1.5"/>
<rect x="178.5" y="1076.2" width="6.6" height="6.6" fill="#d09a53" stroke="#000" stroke-width="1.5"/>
<rect x="192.7" y="1055.1" width="6.6" height="6.6" fill="#d09a53" stroke="#000" stroke-width="1.5"/>
<rect x="202" y="1058.6" width="6.6" height="6.6" fill="#d09a53" stroke="#000" stroke-width="1.5"/>
<rect x="197.8" y="1074.3" width="6.6" height="6.6" fill="#d09a53" stroke="#000" stroke-width="1.5"/>
<rect x="221.2" y="1032.9" width="6.6" height="6.6" fill="#d09a53" stroke="#000" stroke-width="1.5"/>
<rect x="221.2" y="1045.3" width="6.6" height="6.6" fill="#d09a53" stroke="#000" stroke-width="1.5"/>
<rect x="221.2" y="1073.1" width="6.6" height="6.6" fill="#d09a53" stroke="#000" stroke-width="1.5"/>
<rect x="261.4" y="1035.6" width="6.6" height="6.6" fill="#0f9e68" stroke="#000" stroke-width="1.5"/>
<rect x="261.4" y="1085.7" width="6.6" height="6.6" fill="#0f9e68" stroke="#000" stroke-width="1.5"/>
<rect x="256.6" y="1089.4" width="6.6" height="6.6" fill="#0f9e68" stroke="#000" stroke-width="1.5"/>
<rect x="266.2" y="1089.4" width="6.6" height="6.6" fill="#0f9e68" stroke="#000" stroke-width="1.5"/>
<rect x="285.5" y="1014.4" width="6.6" height="6.6" fill="#0f9e68" stroke="#000" stroke-width="1.5"/>
<rect x="285.5" y="1082.9" width="6.6" height="6.6" fill="#0f9e68" stroke="#000" stroke-width="1.5"/>
<rect x="280.7" y="1086.6" width="6.6" height="6.6" fill="#0f9e68" stroke="#000" stroke-width="1.5"/>
<rect x="289.8" y="1086.2" width="6.6" height="6.6" fill="#0f9e68" stroke="#000" stroke-width="1.5"/>
<rect x="309.3" y="1007.1" width="6.6" height="6.6" fill="#0f9e68" stroke="#000" stroke-width="1.5"/>
<rect x="309.3" y="1065.6" width="6.6" height="6.6" fill="#0f9e68" stroke="#000" stroke-width="1.5"/>
<rect x="304.8" y="1079.3" width="6.6" height="6.6" fill="#0f9e68" stroke="#000" stroke-width="1.5"/>
<rect x="313.9" y="1079.3" width="6.6" height="6.6" fill="#0f9e68" stroke="#000" stroke-width="1.5"/>
<path d="M89 999.5V990H137.1V999.5" stroke="#000" stroke-width="1.45" fill="none"/>
<path d="M103.53 983.15V986.65M102.01 984.02L105.04 985.77M102.01 985.77L105.04 984.02" stroke="#000" stroke-width="1.15" stroke-linecap="round"/>
<circle cx="103.53" cy="984.9" r="0.73" fill="#000"/>
<path d="M109.68 983.15V986.65M108.16 984.02L111.19 985.77M108.16 985.77L111.19 984.02" stroke="#000" stroke-width="1.15" stroke-linecap="round"/>
<circle cx="109.68" cy="984.9" r="0.73" fill="#000"/>
<path d="M115.83 983.15V986.65M114.31 984.02L117.34 985.77M114.31 985.77L117.34 984.02" stroke="#000" stroke-width="1.15" stroke-linecap="round"/>
<circle cx="115.83" cy="984.9" r="0.73" fill="#000"/>
<path d="M121.98 983.15V986.65M120.46 984.02L123.49 985.77M120.46 985.77L123.49 984.02" stroke="#000" stroke-width="1.15" stroke-linecap="round"/>
<circle cx="121.98" cy="984.9" r="0.73" fill="#000"/>
<path d="M177.1 999.5V990H224.5V999.5" stroke="#000" stroke-width="1.45" fill="none"/>
<path d="M194.35 983.15V986.65M192.83 984.02L195.87 985.77M192.83 985.77L195.87 984.02" stroke="#000" stroke-width="1.15" stroke-linecap="round"/>
<circle cx="194.35" cy="984.9" r="0.73" fill="#000"/>
<path d="M200.5 983.15V986.65M198.98 984.02L202.02 985.77M198.98 985.77L202.02 984.02" stroke="#000" stroke-width="1.15" stroke-linecap="round"/>
<circle cx="200.5" cy="984.9" r="0.73" fill="#000"/>
<path d="M206.65 983.15V986.65M205.13 984.02L208.17 985.77M205.13 985.77L208.17 984.02" stroke="#000" stroke-width="1.15" stroke-linecap="round"/>
<circle cx="206.65" cy="984.9" r="0.73" fill="#000"/>
<path d="M264.7 999.7V990.2H312.6V999.7" stroke="#000" stroke-width="1.45" fill="none"/>
<path d="M285.27 983.35V986.85M283.76 984.23L286.79 985.98M283.76 985.98L286.79 984.23" stroke="#000" stroke-width="1.15" stroke-linecap="round"/>
<circle cx="285.27" cy="985.1" r="0.73" fill="#000"/>
<path d="M291.42 983.35V986.85M289.91 984.23L292.94 985.98M289.91 985.98L292.94 984.23" stroke="#000" stroke-width="1.15" stroke-linecap="round"/>
<circle cx="291.42" cy="985.1" r="0.73" fill="#000"/>
<text x="89" y="1116.7" font-size="13.0" font-weight="bold" text-anchor="middle">0</text>
<text x="112.8" y="1116.7" font-size="13.0" font-weight="bold" text-anchor="middle">0.1</text>
<text x="137.1" y="1116.7" font-size="13.0" font-weight="bold" text-anchor="middle">1</text>
<text x="177.1" y="1116.7" font-size="13.0" font-weight="bold" text-anchor="middle">0</text>
<text x="201.1" y="1116.7" font-size="13.0" font-weight="bold" text-anchor="middle">0.1</text>
<text x="224.5" y="1116.7" font-size="13.0" font-weight="bold" text-anchor="middle">1</text>
<text x="264.7" y="1116.7" font-size="13.0" font-weight="bold" text-anchor="middle">0</text>
<text x="288.8" y="1116.7" font-size="13.0" font-weight="bold" text-anchor="middle">0.1</text>
<text x="312.6" y="1116.7" font-size="13.0" font-weight="bold" text-anchor="middle">1</text>
<text x="337.7" y="914.2" font-size="19" font-weight="normal" text-anchor="start">(iv)</text>
<text x="525" y="907.2" font-size="14.5" font-weight="bold" text-anchor="middle">Kasumi-1</text>
<text x="369.7" y="1010.5" font-size="14.2" font-weight="bold" text-anchor="middle" transform="rotate(-90 369.7 1010.5)">% DEAD (minus ctrl)</text>
<text x="528.6" y="1137.5" font-size="14.2" font-weight="bold" text-anchor="middle">Virus MOI</text>
<line x1="401.5" y1="924.9" x2="401.5" y2="1096.3" stroke="#000" stroke-width="1.5"/>
<line x1="394.5" y1="1095.6" x2="401.5" y2="1095.6" stroke="#000" stroke-width="1.5"/>
<text x="392.8" y="1100.2" font-size="12.8" font-weight="bold" text-anchor="end">0</text>
<line x1="394.5" y1="1061.6" x2="401.5" y2="1061.6" stroke="#000" stroke-width="1.5"/>
<text x="392.8" y="1066.2" font-size="12.8" font-weight="bold" text-anchor="end">10</text>
<line x1="394.5" y1="1027.6" x2="401.5" y2="1027.6" stroke="#000" stroke-width="1.5"/>
<text x="392.8" y="1032.2" font-size="12.8" font-weight="bold" text-anchor="end">20</text>
<line x1="394.5" y1="993.6" x2="401.5" y2="993.6" stroke="#000" stroke-width="1.5"/>
<text x="392.8" y="998.2" font-size="12.8" font-weight="bold" text-anchor="end">30</text>
<line x1="394.5" y1="959.6" x2="401.5" y2="959.6" stroke="#000" stroke-width="1.5"/>
<text x="392.8" y="964.2" font-size="12.8" font-weight="bold" text-anchor="end">40</text>
<line x1="394.5" y1="925.6" x2="401.5" y2="925.6" stroke="#000" stroke-width="1.5"/>
<text x="392.8" y="930.2" font-size="12.8" font-weight="bold" text-anchor="end">50</text>
<line x1="394.5" y1="1095.6" x2="657.8" y2="1095.6" stroke="#000" stroke-width="1.5"/>
<line x1="417.1" y1="1095.6" x2="417.1" y2="1103.1" stroke="#000" stroke-width="1.5"/>
<line x1="441.3" y1="1095.6" x2="441.3" y2="1103.1" stroke="#000" stroke-width="1.5"/>
<line x1="465.6" y1="1095.6" x2="465.6" y2="1103.1" stroke="#000" stroke-width="1.5"/>
<line x1="505.1" y1="1095.6" x2="505.1" y2="1103.1" stroke="#000" stroke-width="1.5"/>
<line x1="529.2" y1="1095.6" x2="529.2" y2="1103.1" stroke="#000" stroke-width="1.5"/>
<line x1="553" y1="1095.6" x2="553" y2="1103.1" stroke="#000" stroke-width="1.5"/>
<line x1="593" y1="1095.6" x2="593" y2="1103.1" stroke="#000" stroke-width="1.5"/>
<line x1="617" y1="1095.6" x2="617" y2="1103.1" stroke="#000" stroke-width="1.5"/>
<line x1="640.8" y1="1095.6" x2="640.8" y2="1103.1" stroke="#000" stroke-width="1.5"/>
<path d="M410.1 1095.6V1077.6H424.1V1095.6" fill="#fff" stroke="#000" stroke-width="2.6"/>
<path d="M434.3 1095.6V1064.3H448.3V1095.6" fill="#fff" stroke="#000" stroke-width="2.6"/>
<path d="M458.6 1095.6V1034.6H472.6V1095.6" fill="#fff" stroke="#000" stroke-width="2.6"/>
<path d="M498.1 1095.6V1088.8H512.1V1095.6" fill="#a1a0a6" stroke="#000" stroke-width="2.6"/>
<path d="M522.2 1095.6V1086.5H536.2V1095.6" fill="#a1a0a6" stroke="#000" stroke-width="2.6"/>
<path d="M546 1095.6V1053.8H560V1095.6" fill="#a1a0a6" stroke="#000" stroke-width="2.6"/>
<path d="M586 1095.6V1093H600V1095.6" fill="#636363" stroke="#000" stroke-width="2.6"/>
<path d="M610 1095.6V1053.1H624V1095.6" fill="#636363" stroke="#000" stroke-width="2.6"/>
<path d="M633.8 1095.6V1055H647.8V1095.6" fill="#636363" stroke="#000" stroke-width="2.6"/>
<line x1="417.1" y1="1071.8" x2="417.1" y2="1083.4" stroke="#000" stroke-width="1.3"/>
<line x1="413.1" y1="1071.8" x2="421.1" y2="1071.8" stroke="#000" stroke-width="1.3"/>
<line x1="413.1" y1="1083.4" x2="421.1" y2="1083.4" stroke="#000" stroke-width="1.3"/>
<line x1="441.3" y1="1056" x2="441.3" y2="1072.5" stroke="#000" stroke-width="1.3"/>
<line x1="437.3" y1="1056" x2="445.3" y2="1056" stroke="#000" stroke-width="1.3"/>
<line x1="437.3" y1="1072.5" x2="445.3" y2="1072.5" stroke="#000" stroke-width="1.3"/>
<line x1="465.6" y1="1032" x2="465.6" y2="1037" stroke="#000" stroke-width="1.3"/>
<line x1="461.6" y1="1032" x2="469.6" y2="1032" stroke="#000" stroke-width="1.3"/>
<line x1="461.6" y1="1037" x2="469.6" y2="1037" stroke="#000" stroke-width="1.3"/>
<line x1="505.1" y1="1080.2" x2="505.1" y2="1095" stroke="#000" stroke-width="1.3"/>
<line x1="501.1" y1="1080.2" x2="509.1" y2="1080.2" stroke="#000" stroke-width="1.3"/>
<line x1="501.1" y1="1095" x2="509.1" y2="1095" stroke="#000" stroke-width="1.3"/>
<line x1="529.2" y1="1076.7" x2="529.2" y2="1095" stroke="#000" stroke-width="1.3"/>
<line x1="525.2" y1="1076.7" x2="533.2" y2="1076.7" stroke="#000" stroke-width="1.3"/>
<line x1="525.2" y1="1095" x2="533.2" y2="1095" stroke="#000" stroke-width="1.3"/>
<line x1="553" y1="1038.6" x2="553" y2="1069" stroke="#000" stroke-width="1.3"/>
<line x1="549" y1="1038.6" x2="557" y2="1038.6" stroke="#000" stroke-width="1.3"/>
<line x1="549" y1="1069" x2="557" y2="1069" stroke="#000" stroke-width="1.3"/>
<line x1="617" y1="1039.7" x2="617" y2="1066.5" stroke="#000" stroke-width="1.3"/>
<line x1="613" y1="1039.7" x2="621" y2="1039.7" stroke="#000" stroke-width="1.3"/>
<line x1="613" y1="1066.5" x2="621" y2="1066.5" stroke="#000" stroke-width="1.3"/>
<line x1="640.8" y1="1052" x2="640.8" y2="1058" stroke="#000" stroke-width="1.3"/>
<line x1="636.8" y1="1052" x2="644.8" y2="1052" stroke="#000" stroke-width="1.3"/>
<line x1="636.8" y1="1058" x2="644.8" y2="1058" stroke="#000" stroke-width="1.3"/>
<circle cx="413.3" cy="1067.8" r="3.55" fill="#f87d80" stroke="#000" stroke-width="1.55"/>
<circle cx="422.2" cy="1072.5" r="3.55" fill="#f87d80" stroke="#000" stroke-width="1.55"/>
<circle cx="417.5" cy="1089.3" r="3.55" fill="#f87d80" stroke="#000" stroke-width="1.55"/>
<circle cx="436.9" cy="1051.9" r="3.55" fill="#f87d80" stroke="#000" stroke-width="1.55"/>
<circle cx="445.5" cy="1055.6" r="3.55" fill="#f87d80" stroke="#000" stroke-width="1.55"/>
<circle cx="441.3" cy="1081.8" r="3.55" fill="#f87d80" stroke="#000" stroke-width="1.55"/>
<circle cx="465.4" cy="1025.7" r="3.55" fill="#f87d80" stroke="#000" stroke-width="1.55"/>
<circle cx="465.4" cy="1033.9" r="3.55" fill="#f87d80" stroke="#000" stroke-width="1.55"/>
<circle cx="465.4" cy="1042.1" r="3.55" fill="#f87d80" stroke="#000" stroke-width="1.55"/>
<rect x="501.8" y="1069.2" width="6.6" height="6.6" fill="#d09a53" stroke="#000" stroke-width="1.5"/>
<rect x="497.6" y="1091.6" width="6.6" height="6.6" fill="#d09a53" stroke="#000" stroke-width="1.5"/>
<rect x="506.5" y="1091.6" width="6.6" height="6.6" fill="#d09a53" stroke="#000" stroke-width="1.5"/>
<rect x="525.9" y="1065.7" width="6.6" height="6.6" fill="#d09a53" stroke="#000" stroke-width="1.5"/>
<rect x="521.7" y="1089.5" width="6.6" height="6.6" fill="#d09a53" stroke="#000" stroke-width="1.5"/>
<rect x="530.3" y="1089" width="6.6" height="6.6" fill="#d09a53" stroke="#000" stroke-width="1.5"/>
<rect x="549.7" y="1020.1" width="6.6" height="6.6" fill="#d09a53" stroke="#000" stroke-width="1.5"/>
<rect x="545.5" y="1065.2" width="6.6" height="6.6" fill="#d09a53" stroke="#000" stroke-width="1.5"/>
<rect x="553.7" y="1062.8" width="6.6" height="6.6" fill="#d09a53" stroke="#000" stroke-width="1.5"/>
<rect x="589.7" y="1081.6" width="6.6" height="6.6" fill="#0f9e68" stroke="#000" stroke-width="1.5"/>
<rect x="585.1" y="1092" width="6.6" height="6.6" fill="#0f9e68" stroke="#000" stroke-width="1.5"/>
<rect x="594.3" y="1091.5" width="6.6" height="6.6" fill="#0f9e68" stroke="#000" stroke-width="1.5"/>
<rect x="613.4" y="1029.9" width="6.6" height="6.6" fill="#0f9e68" stroke="#000" stroke-width="1.5"/>
<rect x="613.4" y="1037.9" width="6.6" height="6.6" fill="#0f9e68" stroke="#000" stroke-width="1.5"/>
<rect x="613.4" y="1077.7" width="6.6" height="6.6" fill="#0f9e68" stroke="#000" stroke-width="1.5"/>
<rect x="637.5" y="1041.1" width="6.6" height="6.6" fill="#0f9e68" stroke="#000" stroke-width="1.5"/>
<rect x="637.5" y="1049.4" width="6.6" height="6.6" fill="#0f9e68" stroke="#000" stroke-width="1.5"/>
<rect x="637.5" y="1061.3" width="6.6" height="6.6" fill="#0f9e68" stroke="#000" stroke-width="1.5"/>
<path d="M417.1 1013V1003.5H465.6V1013" stroke="#000" stroke-width="1.45" fill="none"/>
<path d="M437.98 996.65V1000.15M436.46 997.52L439.49 999.27M436.46 999.27L439.49 997.52" stroke="#000" stroke-width="1.15" stroke-linecap="round"/>
<circle cx="437.98" cy="998.4" r="0.73" fill="#000"/>
<path d="M444.12 996.65V1000.15M442.61 997.52L445.64 999.27M442.61 999.27L445.64 997.52" stroke="#000" stroke-width="1.15" stroke-linecap="round"/>
<circle cx="444.12" cy="998.4" r="0.73" fill="#000"/>
<path d="M505.1 1013V1003.5H553V1013" stroke="#000" stroke-width="1.45" fill="none"/>
<path d="M528.75 996.65V1000.15M527.23 997.52L530.27 999.27M527.23 999.27L530.27 997.52" stroke="#000" stroke-width="1.15" stroke-linecap="round"/>
<circle cx="528.75" cy="998.4" r="0.73" fill="#000"/>
<path d="M593 986.3V976.8H640.8V986.3" stroke="#000" stroke-width="1.45" fill="none"/>
<path d="M616.6 969.95V973.45M615.08 970.82L618.12 972.57M615.08 972.57L618.12 970.82" stroke="#000" stroke-width="1.15" stroke-linecap="round"/>
<circle cx="616.6" cy="971.7" r="0.73" fill="#000"/>
<path d="M593 1012.8V1003.3H617V1012.8" stroke="#000" stroke-width="1.45" fill="none"/>
<path d="M601.62 996.45V999.95M600.11 997.32L603.14 999.07M600.11 999.07L603.14 997.32" stroke="#000" stroke-width="1.15" stroke-linecap="round"/>
<circle cx="601.62" cy="998.2" r="0.73" fill="#000"/>
<path d="M607.77 996.45V999.95M606.26 997.32L609.29 999.07M606.26 999.07L609.29 997.32" stroke="#000" stroke-width="1.15" stroke-linecap="round"/>
<circle cx="607.77" cy="998.2" r="0.73" fill="#000"/>
<text x="417.1" y="1116.5" font-size="13.0" font-weight="bold" text-anchor="middle">0</text>
<text x="441.3" y="1116.5" font-size="13.0" font-weight="bold" text-anchor="middle">0.1</text>
<text x="465.6" y="1116.5" font-size="13.0" font-weight="bold" text-anchor="middle">1</text>
<text x="505.1" y="1116.5" font-size="13.0" font-weight="bold" text-anchor="middle">0</text>
<text x="529.2" y="1116.5" font-size="13.0" font-weight="bold" text-anchor="middle">0.1</text>
<text x="553" y="1116.5" font-size="13.0" font-weight="bold" text-anchor="middle">1</text>
<text x="593" y="1116.5" font-size="13.0" font-weight="bold" text-anchor="middle">0</text>
<text x="617" y="1116.5" font-size="13.0" font-weight="bold" text-anchor="middle">0.1</text>
<text x="640.8" y="1116.5" font-size="13.0" font-weight="bold" text-anchor="middle">1</text>
<circle cx="76.7" cy="1162.8" r="5.2" fill="#f87d80" stroke="#000" stroke-width="2.2"/>
<text x="92.3" y="1168.6" font-size="14.5" font-weight="normal" text-anchor="start">Reo-CM</text>
<rect x="291.95" y="1157.55" width="10.5" height="10.5" fill="#d09a53" stroke="#000" stroke-width="2.4"/>
<text x="313.2" y="1168.6" font-size="14.5" font-weight="normal" text-anchor="start">CVA-CM</text>
<rect x="509.55" y="1157.55" width="10.5" height="10.5" fill="#0f9e68" stroke="#000" stroke-width="2.4"/>
<text x="530.6" y="1168.6" font-size="14.5" font-weight="normal" text-anchor="start">HSV-CM</text>
</svg>
</body></html>
